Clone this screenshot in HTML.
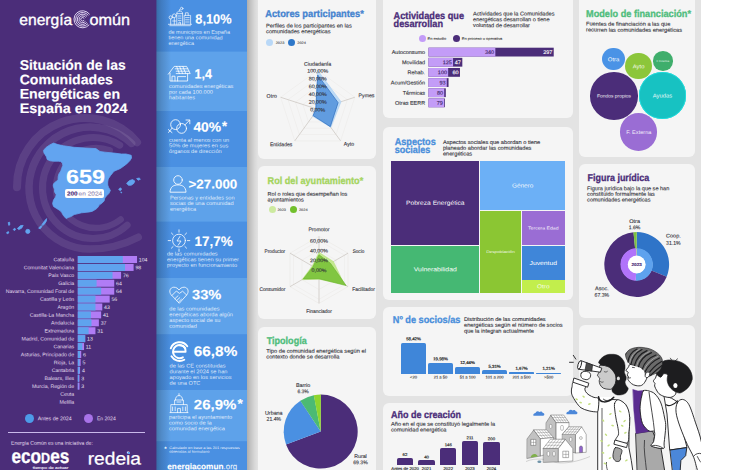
<!DOCTYPE html>
<html><head><meta charset="utf-8"><title>Energia Comun</title>
<style>
html,body{margin:0;padding:0;}
body{width:730px;height:470px;position:relative;overflow:hidden;background:#fff;font-family:"Liberation Sans",sans-serif;}
.t{position:absolute;left:0;top:0;white-space:nowrap;transform-origin:0 0;-webkit-text-stroke:0.12px currentColor;}
.b{position:absolute;}
svg{position:absolute;overflow:visible;}
</style></head><body>
<div class="b" style="left:247.00px;top:0.00px;width:454.00px;height:470.00px;background:#e3e3e3;"></div>
<div class="b" style="left:247px;top:0;width:11px;height:470px;background:linear-gradient(90deg,#aeaeae 0%,#c2c2c2 30%,#d8d8d8 70%,#e3e3e3 100%);"></div>
<div class="b" style="left:150.00px;top:0.00px;width:97.00px;height:470.00px;background:#4a90e2;"></div>
<svg width="730" height="470" style="left:0;top:0" viewBox="0 0 730 470"><rect x="150.00" y="51.60" width="97.00" height="59.40" rx="0" fill="#5ea2ea"/></svg>
<svg width="730" height="470" style="left:0;top:0" viewBox="0 0 730 470"><rect x="150.00" y="167.00" width="97.00" height="54.60" rx="0" fill="#5ea2ea"/></svg>
<svg width="730" height="470" style="left:0;top:0" viewBox="0 0 730 470"><rect x="150.00" y="278.00" width="97.00" height="56.20" rx="0" fill="#5ea2ea"/></svg>
<svg width="730" height="470" style="left:0;top:0" viewBox="0 0 730 470"><rect x="150.00" y="390.00" width="97.00" height="51.20" rx="0" fill="#5ea2ea"/></svg>
<div class="b" style="left:156px;top:0;width:15px;height:470px;background:linear-gradient(90deg,rgba(20,30,40,.33),rgba(20,30,40,.18) 35%,rgba(20,30,40,0));"></div>
<div class="b" style="left:0.00px;top:0.00px;width:156.00px;height:470.00px;background:#4b2d79;"></div>
<svg width="730" height="470" style="left:0;top:0" viewBox="0 0 730 470"><rect x="150.00" y="0.00" width="6.40" height="470.00" rx="0" fill="#4b2d79"/></svg>
<div class="b" style="left:258.30px;top:-10.00px;width:118.20px;height:169.20px;background:#f5f5f5;border-radius:6px;"></div>
<div class="b" style="left:258.30px;top:166.00px;width:118.20px;height:153.20px;background:#f5f5f5;border-radius:6px;"></div>
<div class="b" style="left:258.30px;top:326.50px;width:118.20px;height:153.50px;background:#f5f5f5;border-radius:6px;"></div>
<div class="b" style="left:382.70px;top:-10.00px;width:190.10px;height:128.30px;background:#f5f5f5;border-radius:6px;"></div>
<div class="b" style="left:382.70px;top:126.50px;width:190.10px;height:173.40px;background:#f5f5f5;border-radius:6px;"></div>
<div class="b" style="left:382.70px;top:306.60px;width:190.10px;height:89.20px;background:#f5f5f5;border-radius:6px;"></div>
<div class="b" style="left:383.00px;top:403.30px;width:312.20px;height:76.70px;background:#f5f5f5;border-radius:6px;"></div>
<div class="b" style="left:579.20px;top:-10.00px;width:116.00px;height:167.00px;background:#f5f5f5;border-radius:6px;"></div>
<div class="b" style="left:579.20px;top:164.20px;width:116.00px;height:154.30px;background:#f5f5f5;border-radius:6px;"></div>
<div class="b" style="left:579.20px;top:324.60px;width:116.00px;height:155.40px;background:#f5f5f5;border-radius:6px;"></div>
<div class="t" style="font-size:15.50px;line-height:17px;color:#fff;transform:translate(19.30px,10.90px) rotate(0.03deg) scaleX(1.0081);-webkit-text-stroke:0.35px #fff;">energía</div>
<div class="t" style="font-size:15.50px;line-height:17px;color:#fff;transform:translate(89.60px,10.90px) rotate(0.03deg) scaleX(1.0445);-webkit-text-stroke:0.35px #fff;">omún</div>
<svg width="730" height="470" style="left:0;top:0" viewBox="0 0 730 470"><g fill="none" stroke="#e6dcf7" stroke-width="0.95" stroke-linecap="round"><path d="M89.38 14.01 A8.60 8.60 0 1 0 88.99 25.05"/><path d="M88.04 15.05 A6.90 6.90 0 1 0 87.73 23.92"/><path d="M86.70 16.10 A5.20 5.20 0 1 0 86.46 22.78"/><path d="M85.36 17.15 A3.50 3.50 0 1 0 85.20 21.64"/><path d="M84.02 18.19 A1.80 1.80 0 1 0 83.94 20.50"/></g></svg>
<div class="t" style="font-size:13.90px;line-height:16px;color:#fff;transform:translate(19.70px,56.70px) rotate(0.03deg) scaleX(1.0016);font-weight:bold;">Situación de las</div>
<div class="t" style="font-size:13.90px;line-height:16px;color:#fff;transform:translate(19.70px,71.20px) rotate(0.03deg) scaleX(1.0141);font-weight:bold;">Comunidades</div>
<div class="t" style="font-size:13.90px;line-height:16px;color:#fff;transform:translate(19.70px,85.60px) rotate(0.03deg) scaleX(1.0153);font-weight:bold;">Energéticas en</div>
<div class="t" style="font-size:13.90px;line-height:16px;color:#fff;transform:translate(19.70px,100.00px) rotate(0.03deg) scaleX(1.0353);font-weight:bold;">España en 2024</div>
<svg width="730" height="470" style="left:0;top:0" viewBox="0 0 730 470"><g fill="none" stroke="rgba(255,255,255,0.095)" stroke-linecap="round"><path d="M137.09 142.29 A68.00 68.00 0 0 0 17.01 187.19" stroke-width="8"/><path d="M131.60 143.39 A61.00 61.00 0 1 0 90.00 249.00 A104 104 0 0 0 138.2 237.2" stroke-width="7.5"/><path d="M119.76 145.17 A50.50 50.50 0 1 0 127.12 225.23" stroke-width="7"/><path d="M109.68 150.41 A40.00 40.00 0 1 0 120.63 219.52" stroke-width="6.5"/></g></svg>
<svg width="730" height="470" style="left:0;top:0" viewBox="0 0 730 470"><g fill="#62a4f0" stroke="#62a4f0" stroke-width="0.8" stroke-linejoin="round"><path d="M43.5 150.4 L46.0 147.5 L49.8 144.9 L53.5 143.1 L58.0 144.6 L63.4 145.8 L74.2 147.3 L85.1 148.0 L95.9 148.6 L100.0 151.5 L105.0 152.2 L114.0 153.1 L121.3 154.0 L126.0 154.0 L131.2 155.3 L131.5 158.0 L130.0 160.5 L126.7 163.9 L120.4 168.5 L114.0 171.2 L110.4 175.7 L108.2 179.0 L107.7 182.0 L107.7 185.0 L108.6 187.4 L110.4 190.5 L108.8 193.6 L106.8 195.6 L104.8 198.0 L104.1 201.0 L101.5 203.6 L99.6 204.6 L97.5 207.8 L96.0 209.1 L92.5 211.2 L89.6 211.9 L81.5 212.8 L74.2 214.6 L70.5 216.8 L68.8 217.3 L66.1 218.5 L63.4 215.5 L62.0 212.8 L60.7 211.0 L56.2 208.2 L53.5 206.4 L52.6 203.5 L53.5 200.1 L55.6 197.0 L56.2 194.7 L54.6 192.0 L54.4 189.2 L53.2 186.0 L53.5 183.8 L56.0 181.5 L58.0 180.2 L58.2 176.5 L58.9 173.9 L60.8 171.0 L61.6 168.5 L62.8 165.5 L62.5 163.0 L60.5 161.6 L58.9 161.2 L53.5 161.2 L50.0 160.8 L47.1 159.4 L46.6 157.0 L45.3 154.9 L44.0 153.0Z"/><path d="M126.6 183.2 L129.5 180.6 L132.6 179.6 L134.8 181 L133.8 183.4 L131.2 185.2 L128.4 185.3Z"/><path d="M136.6 178.6 L139.2 178 L140.4 179.2 L138.2 180.2Z"/><path d="M118.6 189.4 L120.4 187.8 L121.6 189 L120.4 190.8Z"/><path d="M120.6 192.3 L121.6 192 L121.6 193 Z"/><path d="M42 224.5 L44.5 221 L46.6 218.6 L46.4 221 L44.4 224.2 L42.6 225.6Z"/><path d="M38.6 228.2 L41 225.6 L42 226.4 L40.2 228.8Z"/><circle cx="27.8" cy="231.4" r="2.1"/><path d="M17.4 228.4 L20.6 225.6 L23.2 225.4 L21.6 228.2 L18.8 229.6Z"/><path d="M13.2 229.4 L14.8 228.2 L15.6 229.6 L14.2 230.6Z"/><path d="M8.2 222.6 L9.6 222.2 L9.8 224.8 L8.8 225.4Z"/><path d="M6.6 232.6 L8.4 231.6 L8.8 233 L7.2 233.8Z"/></g></svg>
<div class="t" style="font-size:19.80px;line-height:22px;color:#fff;transform:translate(66.00px,165.50px) rotate(0.03deg) scaleX(1.1805);font-weight:bold;">659</div>
<div class="b" style="left:64.80px;top:189.20px;width:39.40px;height:8.60px;background:#fff;border-radius:2px;"></div>
<div class="t" style="font-size:5.60px;line-height:6px;color:#4b2d79;transform:translate(66.90px,190.45px) rotate(0.03deg) scaleX(1.1345);font-weight:bold;">200</div>
<div class="t" style="font-size:5.60px;line-height:6px;color:#9a8fb5;transform:translate(78.60px,190.45px) rotate(0.03deg) scaleX(1.1658);">en 2024</div>
<svg width="730" height="470" style="left:0;top:0" viewBox="0 0 730 470"><rect x="77.80" y="256.00" width="59.23" height="7.00" rx="0" fill="#b07cf5"/></svg>
<svg width="730" height="470" style="left:0;top:0" viewBox="0 0 730 470"><rect x="77.80" y="256.00" width="44.99" height="7.00" rx="0" fill="#5fa3ee"/></svg>
<div class="t" style="font-size:5.20px;line-height:6px;color:#ebe5f4;transform:translate(138.83px,256.42px) rotate(0.03deg) scaleX(1.0000);-webkit-text-stroke:0;">104</div>
<div class="t" style="font-size:5.10px;line-height:6px;color:#e4ddef;transform:translate(53.38px,256.28px) rotate(0.03deg) scaleX(1.0200);-webkit-text-stroke:0;">Cataluña</div>
<svg width="730" height="470" style="left:0;top:0" viewBox="0 0 730 470"><rect x="77.80" y="263.92" width="55.81" height="7.00" rx="0" fill="#b07cf5"/></svg>
<svg width="730" height="470" style="left:0;top:0" viewBox="0 0 730 470"><rect x="77.80" y="263.92" width="47.27" height="7.00" rx="0" fill="#5fa3ee"/></svg>
<div class="t" style="font-size:5.20px;line-height:6px;color:#ebe5f4;transform:translate(135.41px,264.33px) rotate(0.03deg) scaleX(1.0000);-webkit-text-stroke:0;">98</div>
<div class="t" style="font-size:5.10px;line-height:6px;color:#e4ddef;transform:translate(23.69px,264.20px) rotate(0.03deg) scaleX(1.0200);-webkit-text-stroke:0;">Comunitat Valenciana</div>
<svg width="730" height="470" style="left:0;top:0" viewBox="0 0 730 470"><rect x="77.80" y="271.83" width="43.28" height="7.00" rx="0" fill="#b07cf5"/></svg>
<svg width="730" height="470" style="left:0;top:0" viewBox="0 0 730 470"><rect x="77.80" y="271.83" width="34.74" height="7.00" rx="0" fill="#5fa3ee"/></svg>
<div class="t" style="font-size:5.20px;line-height:6px;color:#ebe5f4;transform:translate(122.88px,272.25px) rotate(0.03deg) scaleX(1.0000);-webkit-text-stroke:0;">76</div>
<div class="t" style="font-size:5.10px;line-height:6px;color:#e4ddef;transform:translate(48.27px,272.11px) rotate(0.03deg) scaleX(1.0200);-webkit-text-stroke:0;">País Vasco</div>
<svg width="730" height="470" style="left:0;top:0" viewBox="0 0 730 470"><rect x="77.80" y="279.75" width="36.45" height="7.00" rx="0" fill="#b07cf5"/></svg>
<svg width="730" height="470" style="left:0;top:0" viewBox="0 0 730 470"><rect x="77.80" y="279.75" width="18.79" height="7.00" rx="0" fill="#5fa3ee"/></svg>
<div class="t" style="font-size:5.20px;line-height:6px;color:#ebe5f4;transform:translate(116.05px,280.16px) rotate(0.03deg) scaleX(1.0000);-webkit-text-stroke:0;">64</div>
<div class="t" style="font-size:5.10px;line-height:6px;color:#e4ddef;transform:translate(58.30px,280.03px) rotate(0.03deg) scaleX(1.0200);-webkit-text-stroke:0;">Galicia</div>
<svg width="730" height="470" style="left:0;top:0" viewBox="0 0 730 470"><rect x="77.80" y="287.66" width="36.45" height="7.00" rx="0" fill="#b07cf5"/></svg>
<svg width="730" height="470" style="left:0;top:0" viewBox="0 0 730 470"><rect x="77.80" y="287.66" width="23.35" height="7.00" rx="0" fill="#5fa3ee"/></svg>
<div class="t" style="font-size:5.20px;line-height:6px;color:#ebe5f4;transform:translate(116.05px,288.08px) rotate(0.03deg) scaleX(1.0000);-webkit-text-stroke:0;">64</div>
<div class="t" style="font-size:5.10px;line-height:6px;color:#e4ddef;transform:translate(5.67px,287.94px) rotate(0.03deg) scaleX(1.0200);-webkit-text-stroke:0;">Navarra, Comunidad Foral de</div>
<svg width="730" height="470" style="left:0;top:0" viewBox="0 0 730 470"><rect x="77.80" y="295.57" width="31.89" height="7.00" rx="0" fill="#b07cf5"/></svg>
<svg width="730" height="470" style="left:0;top:0" viewBox="0 0 730 470"><rect x="77.80" y="295.57" width="17.65" height="7.00" rx="0" fill="#5fa3ee"/></svg>
<div class="t" style="font-size:5.20px;line-height:6px;color:#ebe5f4;transform:translate(111.49px,295.99px) rotate(0.03deg) scaleX(1.0000);-webkit-text-stroke:0;">56</div>
<div class="t" style="font-size:5.10px;line-height:6px;color:#e4ddef;transform:translate(40.08px,295.86px) rotate(0.03deg) scaleX(1.0200);-webkit-text-stroke:0;">Castilla y León</div>
<svg width="730" height="470" style="left:0;top:0" viewBox="0 0 730 470"><rect x="77.80" y="303.49" width="24.49" height="7.00" rx="0" fill="#b07cf5"/></svg>
<svg width="730" height="470" style="left:0;top:0" viewBox="0 0 730 470"><rect x="77.80" y="303.49" width="17.65" height="7.00" rx="0" fill="#5fa3ee"/></svg>
<div class="t" style="font-size:5.20px;line-height:6px;color:#ebe5f4;transform:translate(104.09px,303.91px) rotate(0.03deg) scaleX(1.0000);-webkit-text-stroke:0;">43</div>
<div class="t" style="font-size:5.10px;line-height:6px;color:#e4ddef;transform:translate(57.42px,303.77px) rotate(0.03deg) scaleX(1.0200);-webkit-text-stroke:0;">Aragón</div>
<svg width="730" height="470" style="left:0;top:0" viewBox="0 0 730 470"><rect x="77.80" y="311.40" width="23.35" height="7.00" rx="0" fill="#b07cf5"/></svg>
<svg width="730" height="470" style="left:0;top:0" viewBox="0 0 730 470"><rect x="77.80" y="311.40" width="13.10" height="7.00" rx="0" fill="#5fa3ee"/></svg>
<div class="t" style="font-size:5.20px;line-height:6px;color:#ebe5f4;transform:translate(102.95px,311.82px) rotate(0.03deg) scaleX(1.0000);-webkit-text-stroke:0;">41</div>
<div class="t" style="font-size:5.10px;line-height:6px;color:#e4ddef;transform:translate(29.67px,311.69px) rotate(0.03deg) scaleX(1.0200);-webkit-text-stroke:0;">Castilla-La Mancha</div>
<svg width="730" height="470" style="left:0;top:0" viewBox="0 0 730 470"><rect x="77.80" y="319.32" width="21.07" height="7.00" rx="0" fill="#b07cf5"/></svg>
<svg width="730" height="470" style="left:0;top:0" viewBox="0 0 730 470"><rect x="77.80" y="319.32" width="13.67" height="7.00" rx="0" fill="#5fa3ee"/></svg>
<div class="t" style="font-size:5.20px;line-height:6px;color:#ebe5f4;transform:translate(100.67px,319.74px) rotate(0.03deg) scaleX(1.0000);-webkit-text-stroke:0;">37</div>
<div class="t" style="font-size:5.10px;line-height:6px;color:#e4ddef;transform:translate(51.06px,319.60px) rotate(0.03deg) scaleX(1.0200);-webkit-text-stroke:0;">Andalucía</div>
<svg width="730" height="470" style="left:0;top:0" viewBox="0 0 730 470"><rect x="77.80" y="327.24" width="17.65" height="7.00" rx="0" fill="#b07cf5"/></svg>
<svg width="730" height="470" style="left:0;top:0" viewBox="0 0 730 470"><rect x="77.80" y="327.24" width="10.82" height="7.00" rx="0" fill="#5fa3ee"/></svg>
<div class="t" style="font-size:5.20px;line-height:6px;color:#ebe5f4;transform:translate(97.25px,327.65px) rotate(0.03deg) scaleX(1.0000);-webkit-text-stroke:0;">31</div>
<div class="t" style="font-size:5.10px;line-height:6px;color:#e4ddef;transform:translate(44.42px,327.52px) rotate(0.03deg) scaleX(1.0200);-webkit-text-stroke:0;">Extremadura</div>
<svg width="730" height="470" style="left:0;top:0" viewBox="0 0 730 470"><rect x="77.80" y="335.15" width="7.40" height="7.00" rx="0" fill="#b07cf5"/></svg>
<svg width="730" height="470" style="left:0;top:0" viewBox="0 0 730 470"><rect x="77.80" y="335.15" width="7.40" height="7.00" rx="0" fill="#5fa3ee"/></svg>
<div class="t" style="font-size:5.20px;line-height:6px;color:#ebe5f4;transform:translate(87.00px,335.57px) rotate(0.03deg) scaleX(1.0000);-webkit-text-stroke:0;">13</div>
<div class="t" style="font-size:5.10px;line-height:6px;color:#e4ddef;transform:translate(21.57px,335.43px) rotate(0.03deg) scaleX(1.0200);-webkit-text-stroke:0;">Madrid, Comunidad de</div>
<svg width="730" height="470" style="left:0;top:0" viewBox="0 0 730 470"><rect x="77.80" y="343.06" width="6.26" height="7.00" rx="0" fill="#b07cf5"/></svg>
<svg width="730" height="470" style="left:0;top:0" viewBox="0 0 730 470"><rect x="77.80" y="343.06" width="4.56" height="7.00" rx="0" fill="#5fa3ee"/></svg>
<div class="t" style="font-size:5.20px;line-height:6px;color:#ebe5f4;transform:translate(85.86px,343.48px) rotate(0.03deg) scaleX(1.0000);-webkit-text-stroke:0;">11</div>
<div class="t" style="font-size:5.10px;line-height:6px;color:#e4ddef;transform:translate(53.38px,343.35px) rotate(0.03deg) scaleX(1.0200);-webkit-text-stroke:0;">Canarias</div>
<svg width="730" height="470" style="left:0;top:0" viewBox="0 0 730 470"><rect x="77.80" y="350.98" width="3.42" height="7.00" rx="0" fill="#b07cf5"/></svg>
<svg width="730" height="470" style="left:0;top:0" viewBox="0 0 730 470"><rect x="77.80" y="350.98" width="2.28" height="7.00" rx="0" fill="#5fa3ee"/></svg>
<div class="t" style="font-size:5.20px;line-height:6px;color:#ebe5f4;transform:translate(83.02px,351.40px) rotate(0.03deg) scaleX(1.0000);-webkit-text-stroke:0;">6</div>
<div class="t" style="font-size:5.10px;line-height:6px;color:#e4ddef;transform:translate(20.71px,351.26px) rotate(0.03deg) scaleX(1.0200);-webkit-text-stroke:0;">Asturias, Principado de</div>
<svg width="730" height="470" style="left:0;top:0" viewBox="0 0 730 470"><rect x="77.80" y="358.89" width="2.85" height="7.00" rx="0" fill="#b07cf5"/></svg>
<svg width="730" height="470" style="left:0;top:0" viewBox="0 0 730 470"><rect x="77.80" y="358.89" width="1.71" height="7.00" rx="0" fill="#5fa3ee"/></svg>
<div class="t" style="font-size:5.20px;line-height:6px;color:#ebe5f4;transform:translate(82.45px,359.31px) rotate(0.03deg) scaleX(1.0000);-webkit-text-stroke:0;">5</div>
<div class="t" style="font-size:5.10px;line-height:6px;color:#e4ddef;transform:translate(53.67px,359.18px) rotate(0.03deg) scaleX(1.0200);-webkit-text-stroke:0;">Rioja, La</div>
<svg width="730" height="470" style="left:0;top:0" viewBox="0 0 730 470"><rect x="77.80" y="366.81" width="2.28" height="7.00" rx="0" fill="#b07cf5"/></svg>
<svg width="730" height="470" style="left:0;top:0" viewBox="0 0 730 470"><rect x="77.80" y="366.81" width="1.71" height="7.00" rx="0" fill="#5fa3ee"/></svg>
<div class="t" style="font-size:5.20px;line-height:6px;color:#ebe5f4;transform:translate(81.88px,367.23px) rotate(0.03deg) scaleX(1.0000);-webkit-text-stroke:0;">4</div>
<div class="t" style="font-size:5.10px;line-height:6px;color:#e4ddef;transform:translate(51.64px,367.09px) rotate(0.03deg) scaleX(1.0200);-webkit-text-stroke:0;">Cantabria</div>
<svg width="730" height="470" style="left:0;top:0" viewBox="0 0 730 470"><rect x="77.80" y="374.73" width="1.71" height="7.00" rx="0" fill="#b07cf5"/></svg>
<svg width="730" height="470" style="left:0;top:0" viewBox="0 0 730 470"><rect x="77.80" y="374.73" width="1.14" height="7.00" rx="0" fill="#5fa3ee"/></svg>
<div class="t" style="font-size:5.20px;line-height:6px;color:#ebe5f4;transform:translate(81.31px,375.14px) rotate(0.03deg) scaleX(1.0000);-webkit-text-stroke:0;">3</div>
<div class="t" style="font-size:5.10px;line-height:6px;color:#e4ddef;transform:translate(44.42px,375.01px) rotate(0.03deg) scaleX(1.0200);-webkit-text-stroke:0;">Balears, Illes</div>
<svg width="730" height="470" style="left:0;top:0" viewBox="0 0 730 470"><rect x="77.80" y="382.64" width="1.71" height="7.00" rx="0" fill="#b07cf5"/></svg>
<svg width="730" height="470" style="left:0;top:0" viewBox="0 0 730 470"><rect x="77.80" y="382.64" width="0.57" height="7.00" rx="0" fill="#5fa3ee"/></svg>
<div class="t" style="font-size:5.20px;line-height:6px;color:#ebe5f4;transform:translate(81.31px,383.06px) rotate(0.03deg) scaleX(1.0000);-webkit-text-stroke:0;">3</div>
<div class="t" style="font-size:5.10px;line-height:6px;color:#e4ddef;transform:translate(31.98px,382.92px) rotate(0.03deg) scaleX(1.0200);-webkit-text-stroke:0;">Murcia, Región de</div>
<div class="t" style="font-size:5.10px;line-height:6px;color:#e4ddef;transform:translate(60.32px,390.84px) rotate(0.03deg) scaleX(1.0200);-webkit-text-stroke:0;">Ceuta</div>
<div class="t" style="font-size:5.10px;line-height:6px;color:#e4ddef;transform:translate(59.46px,398.75px) rotate(0.03deg) scaleX(1.0200);-webkit-text-stroke:0;">Melilla</div>
<div class="b" style="left:24.90px;top:413.60px;width:9.40px;height:9.40px;background:#4d9be8;border-radius:50%;"></div>
<div class="t" style="font-size:5.30px;line-height:6px;color:#e6dff0;transform:translate(37.70px,415.35px) rotate(0.03deg) scaleX(0.9946);-webkit-text-stroke:0;">Antes de 2024</div>
<div class="b" style="left:84.10px;top:413.60px;width:9.40px;height:9.40px;background:#a873e8;border-radius:50%;"></div>
<div class="t" style="font-size:5.30px;line-height:6px;color:#e6dff0;transform:translate(96.90px,415.35px) rotate(0.03deg) scaleX(0.9521);-webkit-text-stroke:0;">En 2024</div>
<div class="b" style="left:8.10px;top:432.00px;width:136.60px;height:1.00px;background:#c9b9ea;"></div>
<div class="t" style="font-size:5.20px;line-height:6px;color:#e6dff0;transform:translate(11.00px,439.72px) rotate(0.03deg) scaleX(0.9816);-webkit-text-stroke:0;">Energía Común es una iniciativa de:</div>
<div class="t" style="font-weight:bold;color:#fff;font-size:20.2px;line-height:23px;-webkit-text-stroke:0.3px #fff;transform:translate(11.5px,444.80px) rotate(0.03deg) scaleX(0.8513);">eco<span style="font-size:14.7px">D</span>es</div>
<div class="t" style="font-size:3.60px;line-height:4px;color:#e8e0f5;transform:translate(32.80px,465.89px) rotate(0.03deg) scaleX(1.3276);">tiempo de actuar</div>
<div class="t" style="font-size:17.50px;line-height:20px;color:#fff;transform:translate(87.70px,448.40px) rotate(0.03deg) scaleX(1.0956);-webkit-text-stroke:0.25px #fff;">redeia</div>
<div class="b" style="left:127.70px;top:451.60px;width:2.60px;height:2.60px;background:#5aa0f0;"></div>
<div class="t" style="font-size:13.30px;line-height:15px;color:#fff;transform:translate(195.30px,11.40px) rotate(0.03deg) scaleX(0.9626);font-weight:bold;">8,10%</div>
<div class="t" style="font-size:5.30px;line-height:6px;color:rgba(255,255,255,0.82);transform:translate(168.40px,28.75px) rotate(0.03deg) scaleX(1.0401);-webkit-text-stroke:0;">de municipios en España</div>
<div class="t" style="font-size:5.30px;line-height:6px;color:rgba(255,255,255,0.82);transform:translate(168.40px,34.35px) rotate(0.03deg) scaleX(1.0401);-webkit-text-stroke:0;">tienen una comunidad</div>
<div class="t" style="font-size:5.30px;line-height:6px;color:rgba(255,255,255,0.82);transform:translate(168.40px,39.95px) rotate(0.03deg) scaleX(1.0401);-webkit-text-stroke:0;">energética</div>
<div class="t" style="font-size:13.30px;line-height:15px;color:#fff;transform:translate(194.60px,66.50px) rotate(0.03deg) scaleX(0.9411);font-weight:bold;">1,4</div>
<div class="t" style="font-size:5.30px;line-height:6px;color:rgba(255,255,255,0.82);transform:translate(168.90px,82.95px) rotate(0.03deg) scaleX(1.0679);-webkit-text-stroke:0;">comunidades energéticas</div>
<div class="t" style="font-size:5.30px;line-height:6px;color:rgba(255,255,255,0.82);transform:translate(168.90px,88.65px) rotate(0.03deg) scaleX(1.0679);-webkit-text-stroke:0;">por cada 100.000</div>
<div class="t" style="font-size:5.30px;line-height:6px;color:rgba(255,255,255,0.82);transform:translate(168.90px,94.35px) rotate(0.03deg) scaleX(1.0679);-webkit-text-stroke:0;">habitantes</div>
<div class="t" style="font-size:13.30px;line-height:15px;color:#fff;transform:translate(193.40px,119.40px) rotate(0.03deg) scaleX(1.0443);font-weight:bold;">40%</div>
<div class="t" style="font-size:13.00px;line-height:15px;color:#fff;transform:translate(222.00px,118.60px) rotate(0.03deg) scaleX(1.0000);font-weight:bold;">*</div>
<div class="t" style="font-size:5.30px;line-height:6px;color:rgba(255,255,255,0.82);transform:translate(169.00px,136.75px) rotate(0.03deg) scaleX(1.0715);-webkit-text-stroke:0;">cuenta al menos con un</div>
<div class="t" style="font-size:5.30px;line-height:6px;color:rgba(255,255,255,0.82);transform:translate(169.00px,142.35px) rotate(0.03deg) scaleX(1.0715);-webkit-text-stroke:0;">50% de mujeres en sus</div>
<div class="t" style="font-size:5.30px;line-height:6px;color:rgba(255,255,255,0.82);transform:translate(169.00px,147.95px) rotate(0.03deg) scaleX(1.0715);-webkit-text-stroke:0;">órganos de dirección</div>
<div class="t" style="font-size:12.80px;line-height:15px;color:#fff;transform:translate(188.50px,176.50px) rotate(0.03deg) scaleX(1.0466);font-weight:bold;">&gt;27.000</div>
<div class="t" style="font-size:5.30px;line-height:6px;color:rgba(255,255,255,0.82);transform:translate(169.90px,194.45px) rotate(0.03deg) scaleX(1.0608);-webkit-text-stroke:0;">Personas y entidades son</div>
<div class="t" style="font-size:5.30px;line-height:6px;color:rgba(255,255,255,0.82);transform:translate(169.90px,200.05px) rotate(0.03deg) scaleX(1.0608);-webkit-text-stroke:0;">socias de una comunidad</div>
<div class="t" style="font-size:5.30px;line-height:6px;color:rgba(255,255,255,0.82);transform:translate(169.90px,205.65px) rotate(0.03deg) scaleX(1.0608);-webkit-text-stroke:0;">energética</div>
<div class="t" style="font-size:13.80px;line-height:15px;color:#fff;transform:translate(194.60px,234.00px) rotate(0.03deg) scaleX(0.9762);font-weight:bold;">17,7%</div>
<div class="t" style="font-size:5.30px;line-height:6px;color:rgba(255,255,255,0.82);transform:translate(166.90px,250.55px) rotate(0.03deg) scaleX(1.0781);-webkit-text-stroke:0;">de las comunidades</div>
<div class="t" style="font-size:5.30px;line-height:6px;color:rgba(255,255,255,0.82);transform:translate(166.90px,256.25px) rotate(0.03deg) scaleX(1.0781);-webkit-text-stroke:0;">energéticas tienen su primer</div>
<div class="t" style="font-size:5.30px;line-height:6px;color:rgba(255,255,255,0.82);transform:translate(166.90px,261.85px) rotate(0.03deg) scaleX(1.0781);-webkit-text-stroke:0;">proyecto en  funcionamiento</div>
<div class="t" style="font-size:13.60px;line-height:15px;color:#fff;transform:translate(192.00px,287.20px) rotate(0.03deg) scaleX(1.0764);font-weight:bold;">33%</div>
<div class="t" style="font-size:5.30px;line-height:6px;color:rgba(255,255,255,0.82);transform:translate(169.30px,305.55px) rotate(0.03deg) scaleX(1.0649);-webkit-text-stroke:0;">de las comunidades</div>
<div class="t" style="font-size:5.30px;line-height:6px;color:rgba(255,255,255,0.82);transform:translate(169.30px,311.25px) rotate(0.03deg) scaleX(1.0649);-webkit-text-stroke:0;">energéticas aborda algún</div>
<div class="t" style="font-size:5.30px;line-height:6px;color:rgba(255,255,255,0.82);transform:translate(169.30px,316.95px) rotate(0.03deg) scaleX(1.0649);-webkit-text-stroke:0;">aspecto social de su</div>
<div class="t" style="font-size:5.30px;line-height:6px;color:rgba(255,255,255,0.82);transform:translate(169.30px,322.65px) rotate(0.03deg) scaleX(1.0649);-webkit-text-stroke:0;">comunidad</div>
<div class="t" style="font-size:14.00px;line-height:16px;color:#fff;transform:translate(193.80px,343.00px) rotate(0.03deg) scaleX(1.0958);font-weight:bold;">66,8%</div>
<div class="t" style="font-size:5.30px;line-height:6px;color:rgba(255,255,255,0.82);transform:translate(169.60px,362.55px) rotate(0.03deg) scaleX(1.0682);-webkit-text-stroke:0;">de las CE constituidas</div>
<div class="t" style="font-size:5.30px;line-height:6px;color:rgba(255,255,255,0.82);transform:translate(169.60px,368.25px) rotate(0.03deg) scaleX(1.0682);-webkit-text-stroke:0;">durante el 2024 se han</div>
<div class="t" style="font-size:5.30px;line-height:6px;color:rgba(255,255,255,0.82);transform:translate(169.60px,373.95px) rotate(0.03deg) scaleX(1.0682);-webkit-text-stroke:0;">apoyado en los servicios</div>
<div class="t" style="font-size:5.30px;line-height:6px;color:rgba(255,255,255,0.82);transform:translate(169.60px,379.65px) rotate(0.03deg) scaleX(1.0682);-webkit-text-stroke:0;">de una OTC</div>
<div class="t" style="font-size:13.60px;line-height:15px;color:#fff;transform:translate(193.80px,397.20px) rotate(0.03deg) scaleX(1.1047);font-weight:bold;">26,9%</div>
<div class="t" style="font-size:13.50px;line-height:15px;color:#fff;transform:translate(237.60px,396.20px) rotate(0.03deg) scaleX(1.0000);font-weight:bold;">*</div>
<div class="t" style="font-size:5.30px;line-height:6px;color:rgba(255,255,255,0.82);transform:translate(168.90px,413.75px) rotate(0.03deg) scaleX(1.0759);-webkit-text-stroke:0;">participa el ayuntamiento</div>
<div class="t" style="font-size:5.30px;line-height:6px;color:rgba(255,255,255,0.82);transform:translate(168.90px,419.45px) rotate(0.03deg) scaleX(1.0759);-webkit-text-stroke:0;">como socio de la</div>
<div class="t" style="font-size:5.30px;line-height:6px;color:rgba(255,255,255,0.82);transform:translate(168.90px,425.15px) rotate(0.03deg) scaleX(1.0759);-webkit-text-stroke:0;">comunidad energética</div>
<div class="t" style="font-size:5.00px;line-height:6px;color:#fff;transform:translate(164.60px,445.25px) rotate(0.03deg) scaleX(1.0000);font-weight:bold;">*</div>
<div class="t" style="font-size:3.50px;line-height:4px;color:rgba(255,255,255,0.9);transform:translate(169.30px,446.05px) rotate(0.03deg) scaleX(1.1307);-webkit-text-stroke:0;">Calculado en base a las 201 respuestas</div>
<div class="t" style="font-size:3.50px;line-height:4px;color:rgba(255,255,255,0.9);transform:translate(169.30px,449.85px) rotate(0.03deg) scaleX(1.1307);-webkit-text-stroke:0;">obtenidas al formulario</div>
<div class="t" style="font-size:8.20px;line-height:9px;color:#fff;transform:translate(167.30px,462.30px) rotate(0.03deg) scaleX(1.0027);font-weight:bold;">energiacomun</div>
<div class="t" style="font-size:8.20px;line-height:9px;color:rgba(255,255,255,0.85);transform:translate(223.60px,462.30px) rotate(0.03deg) scaleX(0.9625);">.org</div>
<svg width="730" height="470" style="left:0;top:0" viewBox="0 0 730 470"><g fill="none" stroke="rgba(255,255,255,0.85)" stroke-width="0.8" stroke-linecap="round" stroke-linejoin="round"><path d="M168.4 24.3 H191.6 M169.8 25.7 H190.4"/><circle cx="170.7" cy="17.4" r="1.6"/><path d="M170.7 19 V24.3"/><circle cx="174.3" cy="15.8" r="1.9"/><path d="M174.3 17.7 V24.3 M172.6 21 H176"/><path d="M176.8 24.3 V13.6 C176.8 10.2 182.6 10.2 182.6 13.6 V24.3 M176.8 13.6 H182.6 M178.4 16 H181 M178.4 18.2 H181 M178.4 20.4 H181 M178.9 24.3 V22.2 H180.5 V24.3"/><circle cx="181.7" cy="8.5" r="1.25"/><path d="M179.7 11 V9.4"/><path d="M184.2 24.3 V15.4 H190.6 V24.3 M185.4 15.4 V12.8 H188.2 V15.4 M185.6 17.6 H189.2 M185.6 19.8 H189.2 M185.6 22 H189.2"/></g></svg>
<svg width="730" height="470" style="left:0;top:0" viewBox="0 0 730 470"><g fill="none" stroke="#fff" stroke-width="0.8" stroke-linecap="round" stroke-linejoin="round"><path d="M168.3 74.2 L174.2 66.4 H186.6 L190.2 73.6 H176.2 M170 73 V81 H187.6 V73.6 M172 81 V76.2 H175 V81 M177.6 81 V76.6 H185.6"/><path d="M176.6 66.4 L179.4 73.6 M179.6 66.4 L182.6 73.6 M182.8 66.4 L185.8 73.6 M175.2 68.8 H187.8 M176.2 71.2 H189"/></g></svg>
<svg width="730" height="470" style="left:0;top:0" viewBox="0 0 730 470"><g fill="none" stroke="#fff" stroke-width="0.85" stroke-linecap="round" stroke-linejoin="round"><circle cx="175.6" cy="124.6" r="4.9"/><circle cx="181.6" cy="128.4" r="4.9"/><path d="M185 124.8 L189.6 120.2 M186 120 H189.8 V123.8"/><path d="M172 128.2 L168.6 132.4 M168.4 129.6 L172 132.6"/></g></svg>
<svg width="730" height="470" style="left:0;top:0" viewBox="0 0 730 470"><g fill="none" stroke="#fff" stroke-width="0.85" stroke-linecap="round" stroke-linejoin="round"><circle cx="178" cy="180" r="4.3"/><path d="M170 191.8 C170.4 186.8 173.4 184.9 178 184.9 C182.6 184.9 185.6 186.8 186 191.8 Z"/></g></svg>
<svg width="730" height="470" style="left:0;top:0" viewBox="0 0 730 470"><g fill="none" stroke="#fff" stroke-width="0.8" stroke-linecap="round" stroke-linejoin="round"><circle cx="179" cy="240.6" r="6.4"/><path d="M180 236.4 L177 241 H181 L178.2 245.2"/><path d="M187.4 240.6 L189.8 240.6"/><path d="M184.9 246.5 L186.6 248.2"/><path d="M179.0 249.0 L179.0 251.4"/><path d="M173.1 246.5 L171.4 248.2"/><path d="M170.6 240.6 L168.2 240.6"/><path d="M173.1 234.7 L171.4 233.0"/><path d="M179.0 232.2 L179.0 229.8"/><path d="M184.9 234.7 L186.6 233.0"/></g></svg>
<svg width="730" height="470" style="left:0;top:0" viewBox="0 0 730 470"><g fill="none" stroke="#fff" stroke-width="0.8" stroke-linecap="round" stroke-linejoin="round"><path d="M179 303 L171 294.6 C168.6 291.6 170 287.4 173.8 287.2 C176.4 287.2 178 288.6 179 290 C180 288.6 181.6 287.2 184.2 287.2 C188 287.4 189.4 291.6 187 294.6 Z"/><path d="M172 295.4 L176.4 291 L179.4 293.4 L182.6 291.2 L186.6 295 M175 298.6 L178 295.8 M176.8 300.4 L179.8 297.6 M178.6 302 L181.4 299.2"/></g></svg>
<svg width="730" height="470" style="left:0;top:0" viewBox="0 0 730 470"><g fill="none" stroke="#fff" stroke-width="1.9" stroke-linecap="round" stroke-linejoin="round"><path d="M187.30 346.21 A9.40 9.40 0 0 0 170.77 348.39"/><path d="M185.32 348.30 A6.60 6.60 0 1 0 182.90 357.32"/><path d="M173.4 351.8 H185.6 C185.6 347 182.6 345.4 179.6 345.4"/><path d="M171.46 356.30 A9.40 9.40 0 0 0 184.30 359.74"/></g></svg>
<svg width="730" height="470" style="left:0;top:0" viewBox="0 0 730 470"><g fill="none" stroke="#fff" stroke-width="0.75" stroke-linecap="round" stroke-linejoin="round"><path d="M170 412.6 H188 M170.8 412.6 V404.6 H187.2 V412.6 M174.6 404.6 V400 H183.4 V404.6 M175.4 400 C175.4 397 177 395.6 179 395.6 C181 395.6 182.6 397 182.6 400 M179 395.6 V393.6"/><path d="M172.6 407 V410.6 M175.2 407 V410.6 M182.8 407 V410.6 M185.4 407 V410.6 M177.6 412.6 V408.4 H180.4 V412.6 M177 402 H181"/></g></svg>
<div class="t" style="font-size:10.00px;line-height:11px;color:#4483cf;transform:translate(265.20px,7.90px) rotate(0.03deg) scaleX(0.9289);font-weight:bold;-webkit-text-stroke:0.3px currentColor;">Actores participantes*</div>
<div class="t" style="font-size:5.50px;line-height:6px;color:#33333b;transform:translate(266.10px,22.52px) rotate(0.03deg) scaleX(1.0268);">Perfiles de los participantes en las</div>
<div class="t" style="font-size:5.50px;line-height:6px;color:#33333b;transform:translate(266.10px,28.31px) rotate(0.03deg) scaleX(1.0268);">comunidades energéticas</div>
<div class="b" style="left:266.40px;top:39.30px;width:7.00px;height:7.00px;background:#b9d8f7;border-radius:50%;"></div>
<div class="t" style="font-size:3.40px;line-height:4px;color:#555;transform:translate(275.70px,41.02px) rotate(0.03deg) scaleX(1.1370);">2023</div>
<div class="b" style="left:288.10px;top:39.30px;width:7.00px;height:7.00px;background:#2f78c9;border-radius:50%;"></div>
<div class="t" style="font-size:3.40px;line-height:4px;color:#555;transform:translate(297.20px,41.02px) rotate(0.03deg) scaleX(1.1634);">2024</div>
<svg width="730" height="470" style="left:0;top:0" viewBox="0 0 730 470"><polygon points="317.70,101.50 325.12,106.89 322.28,115.61 313.12,115.61 310.28,106.89" fill="none" stroke="#ebe9e7" stroke-width="0.5"/><polygon points="317.70,93.70 332.54,104.48 326.87,121.92 308.53,121.92 302.86,104.48" fill="none" stroke="#ebe9e7" stroke-width="0.5"/><polygon points="317.70,85.90 339.95,102.07 331.45,128.23 303.95,128.23 295.45,102.07" fill="none" stroke="#ebe9e7" stroke-width="0.5"/><polygon points="317.70,78.10 347.37,99.66 336.04,134.54 299.36,134.54 288.03,99.66" fill="none" stroke="#ebe9e7" stroke-width="0.5"/><polygon points="317.70,70.30 354.79,97.25 340.62,140.85 294.78,140.85 280.61,97.25" fill="none" stroke="#ebe9e7" stroke-width="0.5"/><line x1="317.70" y1="109.30" x2="317.70" y2="70.30" stroke="#c9c3bd" stroke-width="0.7"/><line x1="317.70" y1="109.30" x2="354.79" y2="97.25" stroke="#c9c3bd" stroke-width="0.7"/><line x1="317.70" y1="109.30" x2="340.62" y2="140.85" stroke="#c9c3bd" stroke-width="0.7"/><line x1="317.70" y1="109.30" x2="294.78" y2="140.85" stroke="#c9c3bd" stroke-width="0.7"/><line x1="317.70" y1="109.30" x2="280.61" y2="97.25" stroke="#c9c3bd" stroke-width="0.7"/><polygon points="317.70,70.30 341.07,101.71 330.77,127.28 312.66,116.24 315.47,108.58" fill="#bcdaf6" stroke="#a9cdf0" stroke-width="0.5"/><polygon points="317.70,74.98 338.10,102.67 330.31,126.65 313.12,115.61 315.85,108.70" fill="rgba(62,132,214,0.72)" stroke="#2f6fbe" stroke-width="0.7"/></svg>
<div class="t" style="font-size:5.30px;line-height:6px;color:#33333b;transform:translate(304.10px,60.75px) rotate(0.03deg) scaleX(1.0033);">Ciudadanía</div>
<div class="t" style="font-size:5.20px;line-height:6px;color:#33333b;transform:translate(310.18px,106.62px) rotate(0.03deg) scaleX(1.0200);">0,00%</div>
<div class="t" style="font-size:5.20px;line-height:6px;color:#33333b;transform:translate(308.71px,98.82px) rotate(0.03deg) scaleX(1.0200);">20,00%</div>
<div class="t" style="font-size:5.20px;line-height:6px;color:#33333b;transform:translate(308.71px,91.02px) rotate(0.03deg) scaleX(1.0200);">40,00%</div>
<div class="t" style="font-size:5.20px;line-height:6px;color:#33333b;transform:translate(308.71px,83.22px) rotate(0.03deg) scaleX(1.0200);">60,00%</div>
<div class="t" style="font-size:5.20px;line-height:6px;color:#33333b;transform:translate(308.71px,75.42px) rotate(0.03deg) scaleX(1.0200);">80,00%</div>
<div class="t" style="font-size:5.20px;line-height:6px;color:#33333b;transform:translate(307.23px,67.62px) rotate(0.03deg) scaleX(1.0200);">100,00%</div>
<div class="t" style="font-size:5.30px;line-height:6px;color:#33333b;transform:translate(358.60px,92.35px) rotate(0.03deg) scaleX(0.9754);">Pymes</div>
<div class="t" style="font-size:5.30px;line-height:6px;color:#33333b;transform:translate(343.80px,140.75px) rotate(0.03deg) scaleX(0.9705);">Ayto</div>
<div class="t" style="font-size:5.30px;line-height:6px;color:#33333b;transform:translate(270.00px,141.25px) rotate(0.03deg) scaleX(0.9417);">Entidades</div>
<div class="t" style="font-size:5.30px;line-height:6px;color:#33333b;transform:translate(266.60px,92.75px) rotate(0.03deg) scaleX(0.9896);">Otro</div>
<div class="t" style="font-size:10.00px;line-height:11px;color:#a4d45e;transform:translate(267.60px,175.20px) rotate(0.03deg) scaleX(0.9103);font-weight:bold;-webkit-text-stroke:0.3px currentColor;">Rol del ayuntamiento*</div>
<div class="t" style="font-size:5.50px;line-height:6px;color:#33333b;transform:translate(267.60px,190.72px) rotate(0.03deg) scaleX(1.0116);">Rol o roles que desempeñan los</div>
<div class="t" style="font-size:5.50px;line-height:6px;color:#33333b;transform:translate(267.60px,196.51px) rotate(0.03deg) scaleX(1.0116);">ayuntamientos</div>
<div class="b" style="left:268.50px;top:206.40px;width:7.00px;height:7.00px;background:#cdeaa0;border-radius:50%;"></div>
<div class="t" style="font-size:3.40px;line-height:4px;color:#555;transform:translate(277.40px,208.12px) rotate(0.03deg) scaleX(1.1370);">2023</div>
<div class="b" style="left:290.20px;top:206.40px;width:7.00px;height:7.00px;background:#72c02c;border-radius:50%;"></div>
<div class="t" style="font-size:3.40px;line-height:4px;color:#555;transform:translate(298.90px,208.12px) rotate(0.03deg) scaleX(1.1634);">2024</div>
<svg width="730" height="470" style="left:0;top:0" viewBox="0 0 730 470"><polygon points="319.00,260.10 327.49,265.00 327.49,274.80 319.00,279.70 310.51,274.80 310.51,265.00" fill="none" stroke="#ebe9e7" stroke-width="0.5"/><polygon points="319.00,250.30 335.97,260.10 335.97,279.70 319.00,289.50 302.03,279.70 302.03,260.10" fill="none" stroke="#ebe9e7" stroke-width="0.5"/><polygon points="319.00,240.50 344.46,255.20 344.46,284.60 319.00,299.30 293.54,284.60 293.54,255.20" fill="none" stroke="#ebe9e7" stroke-width="0.5"/><polygon points="319.00,236.40 348.01,253.15 348.01,286.65 319.00,303.40 289.99,286.65 289.99,253.15" fill="none" stroke="#e9e6e3" stroke-width="0.5"/><line x1="319.00" y1="269.90" x2="319.00" y2="236.40" stroke="#c9c3bd" stroke-width="0.7"/><line x1="319.00" y1="269.90" x2="348.01" y2="253.15" stroke="#c9c3bd" stroke-width="0.7"/><line x1="319.00" y1="269.90" x2="348.01" y2="286.65" stroke="#c9c3bd" stroke-width="0.7"/><line x1="319.00" y1="269.90" x2="319.00" y2="303.40" stroke="#c9c3bd" stroke-width="0.7"/><line x1="319.00" y1="269.90" x2="289.99" y2="286.65" stroke="#c9c3bd" stroke-width="0.7"/><line x1="319.00" y1="269.90" x2="289.99" y2="253.15" stroke="#c9c3bd" stroke-width="0.7"/><polygon points="319.00,252.26 333.43,261.57 344.46,284.60 319.00,279.21 302.03,279.70 312.21,265.98" fill="#c3e88f" stroke="#b4df7b" stroke-width="0.5"/><polygon points="319.00,254.71 330.46,263.28 346.16,285.58 319.00,278.72 303.30,278.96 313.06,266.47" fill="rgba(118,192,52,0.85)" stroke="#68b32a" stroke-width="0.6"/></svg>
<div class="t" style="font-size:5.30px;line-height:6px;color:#33333b;transform:translate(308.40px,226.35px) rotate(0.03deg) scaleX(0.9726);">Promotor</div>
<div class="t" style="font-size:5.20px;line-height:6px;color:#33333b;transform:translate(311.48px,267.12px) rotate(0.03deg) scaleX(1.0200);">0,00%</div>
<div class="t" style="font-size:5.20px;line-height:6px;color:#33333b;transform:translate(310.01px,257.32px) rotate(0.03deg) scaleX(1.0200);">20,00%</div>
<div class="t" style="font-size:5.20px;line-height:6px;color:#33333b;transform:translate(310.01px,247.52px) rotate(0.03deg) scaleX(1.0200);">40,00%</div>
<div class="t" style="font-size:5.20px;line-height:6px;color:#33333b;transform:translate(310.01px,237.72px) rotate(0.03deg) scaleX(1.0200);">60,00%</div>
<div class="t" style="font-size:5.30px;line-height:6px;color:#33333b;transform:translate(352.70px,247.85px) rotate(0.03deg) scaleX(0.8749);">Socio</div>
<div class="t" style="font-size:5.30px;line-height:6px;color:#33333b;transform:translate(352.20px,286.45px) rotate(0.03deg) scaleX(0.9244);">Facilitador</div>
<div class="t" style="font-size:5.30px;line-height:6px;color:#33333b;transform:translate(306.20px,308.15px) rotate(0.03deg) scaleX(0.9244);">Financiador</div>
<div class="t" style="font-size:5.30px;line-height:6px;color:#33333b;transform:translate(259.50px,286.45px) rotate(0.03deg) scaleX(0.9029);">Consumidor</div>
<div class="t" style="font-size:5.30px;line-height:6px;color:#33333b;transform:translate(264.60px,247.85px) rotate(0.03deg) scaleX(0.8965);">Productor</div>
<div class="t" style="font-size:10.00px;line-height:11px;color:#4fbd7c;transform:translate(266.70px,334.80px) rotate(0.03deg) scaleX(0.9038);font-weight:bold;-webkit-text-stroke:0.3px currentColor;">Tipología</div>
<div class="t" style="font-size:5.50px;line-height:6px;color:#33333b;transform:translate(266.30px,347.81px) rotate(0.03deg) scaleX(1.0363);">Tipo de comunidad energética según el</div>
<div class="t" style="font-size:5.50px;line-height:6px;color:#33333b;transform:translate(266.30px,353.51px) rotate(0.03deg) scaleX(1.0363);">contexto donde se desarrolla</div>
<svg width="730" height="470" style="left:0;top:0" viewBox="0 0 730 470"><path d="M320.70 431.60 L320.70 394.60 A37.00 37.00 0 1 1 285.98 444.39Z" fill="#4b2d79"/><path d="M320.70 431.60 L286.05 444.57 A37.00 37.00 0 0 1 300.45 400.63Z" fill="#4a90e2"/><path d="M320.70 431.60 L300.29 400.74 A37.00 37.00 0 0 1 313.96 395.22Z" fill="#4cba74"/><path d="M320.70 431.60 L313.77 395.26 A37.00 37.00 0 0 1 320.89 394.60Z" fill="#8fd52e"/></svg>
<div class="t" style="font-size:5.30px;line-height:6px;color:#33333b;transform:translate(295.90px,381.95px) rotate(0.03deg) scaleX(1.0185);">Barrio</div>
<div class="t" style="font-size:5.30px;line-height:6px;color:#33333b;transform:translate(297.40px,388.25px) rotate(0.03deg) scaleX(0.9437);">6.3%</div>
<div class="t" style="font-size:5.30px;line-height:6px;color:#33333b;transform:translate(265.00px,409.75px) rotate(0.03deg) scaleX(1.0124);">Urbana</div>
<div class="t" style="font-size:5.30px;line-height:6px;color:#33333b;transform:translate(266.60px,415.85px) rotate(0.03deg) scaleX(0.9582);">21.4%</div>
<div class="t" style="font-size:5.30px;line-height:6px;color:#33333b;transform:translate(354.20px,452.95px) rotate(0.03deg) scaleX(0.9948);">Rural</div>
<div class="t" style="font-size:5.30px;line-height:6px;color:#33333b;transform:translate(353.20px,459.15px) rotate(0.03deg) scaleX(0.9715);">69.3%</div>
<div class="t" style="font-size:10.00px;line-height:11px;color:#4b2d79;transform:translate(393.60px,9.60px) rotate(0.03deg) scaleX(0.9180);font-weight:bold;-webkit-text-stroke:0.3px currentColor;">Actividades que</div>
<div class="t" style="font-size:10.00px;line-height:11px;color:#4b2d79;transform:translate(393.60px,17.90px) rotate(0.03deg) scaleX(0.9163);font-weight:bold;-webkit-text-stroke:0.3px currentColor;">desarrollan</div>
<div class="t" style="font-size:5.50px;line-height:6px;color:#33333b;transform:translate(473.10px,10.51px) rotate(0.03deg) scaleX(1.0161);">Actividades que la Comunidades</div>
<div class="t" style="font-size:5.50px;line-height:6px;color:#33333b;transform:translate(473.10px,16.32px) rotate(0.03deg) scaleX(1.0161);">energéticas desarrollan o tiene</div>
<div class="t" style="font-size:5.50px;line-height:6px;color:#33333b;transform:translate(473.10px,22.12px) rotate(0.03deg) scaleX(1.0161);">voluntad de desarrollar</div>
<div class="b" style="left:418.60px;top:35.10px;width:7.00px;height:7.00px;background:#c39cf7;border-radius:50%;"></div>
<div class="t" style="font-size:3.40px;line-height:4px;color:#444;transform:translate(427.60px,36.82px) rotate(0.03deg) scaleX(1.1576);">En estudio</div>
<div class="b" style="left:452.70px;top:34.90px;width:7.40px;height:7.40px;background:#4b2d79;border-radius:50%;"></div>
<div class="t" style="font-size:3.40px;line-height:4px;color:#444;transform:translate(461.80px,36.82px) rotate(0.03deg) scaleX(1.1611);">En proceso u operativa</div>
<svg width="730" height="470" style="left:0;top:0" viewBox="0 0 730 470"><rect x="428.50" y="47.70" width="125.23" height="8.80" rx="0" fill="#4b2d79"/></svg>
<svg width="730" height="470" style="left:0;top:0" viewBox="0 0 730 470"><rect x="428.50" y="47.70" width="66.84" height="8.80" rx="0" fill="#c39cf7"/></svg>
<div class="t" style="font-size:5.30px;line-height:6px;color:#33333b;transform:translate(391.72px,49.05px) rotate(0.03deg) scaleX(1.0300);">Autoconsumo</div>
<div class="t" style="font-size:5.30px;line-height:6px;color:#3a2466;transform:translate(485.04px,49.05px) rotate(0.03deg) scaleX(1.0300);">340</div>
<div class="t" style="font-size:5.30px;line-height:6px;color:#fff;transform:translate(543.23px,49.05px) rotate(0.03deg) scaleX(1.0300);">297</div>
<svg width="730" height="470" style="left:0;top:0" viewBox="0 0 730 470"><rect x="428.50" y="57.85" width="33.82" height="8.80" rx="0" fill="#4b2d79"/></svg>
<svg width="730" height="470" style="left:0;top:0" viewBox="0 0 730 470"><rect x="428.50" y="57.85" width="24.57" height="8.80" rx="0" fill="#c39cf7"/></svg>
<div class="t" style="font-size:5.30px;line-height:6px;color:#33333b;transform:translate(402.04px,59.20px) rotate(0.03deg) scaleX(1.0300);">Movilidad</div>
<div class="t" style="font-size:5.30px;line-height:6px;color:#3a2466;transform:translate(442.77px,59.20px) rotate(0.03deg) scaleX(1.0300);">125</div>
<div class="t" style="font-size:5.30px;line-height:6px;color:#fff;transform:translate(454.84px,59.20px) rotate(0.03deg) scaleX(1.0300);">47</div>
<svg width="730" height="470" style="left:0;top:0" viewBox="0 0 730 470"><rect x="428.50" y="68.00" width="31.46" height="8.80" rx="0" fill="#4b2d79"/></svg>
<svg width="730" height="470" style="left:0;top:0" viewBox="0 0 730 470"><rect x="428.50" y="68.00" width="19.66" height="8.80" rx="0" fill="#c39cf7"/></svg>
<div class="t" style="font-size:5.30px;line-height:6px;color:#33333b;transform:translate(407.50px,69.35px) rotate(0.03deg) scaleX(1.0300);">Rehab.</div>
<div class="t" style="font-size:5.30px;line-height:6px;color:#3a2466;transform:translate(437.85px,69.35px) rotate(0.03deg) scaleX(1.0300);">100</div>
<div class="t" style="font-size:5.30px;line-height:6px;color:#fff;transform:translate(452.48px,69.35px) rotate(0.03deg) scaleX(1.0300);">60</div>
<svg width="730" height="470" style="left:0;top:0" viewBox="0 0 730 470"><rect x="428.50" y="78.15" width="20.05" height="8.80" rx="0" fill="#4b2d79"/></svg>
<svg width="730" height="470" style="left:0;top:0" viewBox="0 0 730 470"><rect x="428.50" y="78.15" width="18.28" height="8.80" rx="0" fill="#c39cf7"/></svg>
<div class="t" style="font-size:5.30px;line-height:6px;color:#33333b;transform:translate(390.82px,79.50px) rotate(0.03deg) scaleX(1.0300);">Acum/Gestión</div>
<div class="t" style="font-size:5.30px;line-height:6px;color:#3a2466;transform:translate(439.51px,79.50px) rotate(0.03deg) scaleX(1.0300);">93</div>
<svg width="730" height="470" style="left:0;top:0" viewBox="0 0 730 470"><rect x="428.50" y="88.30" width="17.30" height="8.80" rx="0" fill="#4b2d79"/></svg>
<svg width="730" height="470" style="left:0;top:0" viewBox="0 0 730 470"><rect x="428.50" y="88.30" width="15.73" height="8.80" rx="0" fill="#c39cf7"/></svg>
<div class="t" style="font-size:5.30px;line-height:6px;color:#33333b;transform:translate(402.66px,89.65px) rotate(0.03deg) scaleX(1.0300);">Térmicas</div>
<div class="t" style="font-size:5.30px;line-height:6px;color:#3a2466;transform:translate(436.96px,89.65px) rotate(0.03deg) scaleX(1.0300);">80</div>
<svg width="730" height="470" style="left:0;top:0" viewBox="0 0 730 470"><rect x="428.50" y="98.45" width="16.32" height="8.80" rx="0" fill="#4b2d79"/></svg>
<svg width="730" height="470" style="left:0;top:0" viewBox="0 0 730 470"><rect x="428.50" y="98.45" width="15.53" height="8.80" rx="0" fill="#c39cf7"/></svg>
<div class="t" style="font-size:5.30px;line-height:6px;color:#33333b;transform:translate(395.07px,99.80px) rotate(0.03deg) scaleX(1.0300);">Otras EERR</div>
<div class="t" style="font-size:5.30px;line-height:6px;color:#3a2466;transform:translate(436.76px,99.80px) rotate(0.03deg) scaleX(1.0300);">79</div>
<div class="t" style="font-size:10.00px;line-height:11px;color:#4a8fdb;transform:translate(394.70px,136.10px) rotate(0.03deg) scaleX(0.9108);font-weight:bold;-webkit-text-stroke:0.3px currentColor;">Aspectos</div>
<div class="t" style="font-size:10.00px;line-height:11px;color:#4a8fdb;transform:translate(394.70px,144.40px) rotate(0.03deg) scaleX(0.9019);font-weight:bold;-webkit-text-stroke:0.3px currentColor;">sociales</div>
<div class="t" style="font-size:5.50px;line-height:6px;color:#33333b;transform:translate(442.90px,138.91px) rotate(0.03deg) scaleX(1.0298);">Aspectos sociales que abordan o tiene</div>
<div class="t" style="font-size:5.50px;line-height:6px;color:#33333b;transform:translate(442.90px,144.72px) rotate(0.03deg) scaleX(1.0298);">planeado abordar las comunidades</div>
<div class="t" style="font-size:5.50px;line-height:6px;color:#33333b;transform:translate(442.90px,150.51px) rotate(0.03deg) scaleX(1.0298);">energéticas</div>
<div class="b" style="left:390.90px;top:161.00px;width:88.40px;height:84.00px;background:#4b2d79;"></div>
<div class="b" style="left:390.90px;top:245.60px;width:88.40px;height:47.20px;background:#45b873;"></div>
<div class="b" style="left:480.00px;top:161.00px;width:85.10px;height:49.00px;background:#6cb0f6;"></div>
<div class="b" style="left:480.00px;top:210.60px;width:41.20px;height:82.20px;background:#8bc633;"></div>
<div class="b" style="left:522.00px;top:210.60px;width:43.10px;height:34.70px;background:#9a6dd4;"></div>
<div class="b" style="left:522.00px;top:246.00px;width:43.10px;height:33.60px;background:#3f86d9;"></div>
<div class="b" style="left:522.00px;top:280.20px;width:43.10px;height:12.60px;background:#c2ee4c;"></div>
<div class="t" style="font-size:5.90px;line-height:6px;color:#fff;transform:translate(406.00px,199.75px) rotate(0.03deg) scaleX(1.1308);-webkit-text-stroke:0;">Pobreza Energética</div>
<div class="t" style="font-size:5.90px;line-height:6px;color:#fff;transform:translate(413.80px,266.15px) rotate(0.03deg) scaleX(1.1566);-webkit-text-stroke:0;">Vulnerabilidad</div>
<div class="t" style="font-size:5.90px;line-height:6px;color:#fff;transform:translate(511.90px,182.55px) rotate(0.03deg) scaleX(1.0874);opacity:0.9;-webkit-text-stroke:0;">Género</div>
<div class="t" style="font-size:3.60px;line-height:4px;color:#fff;transform:translate(486.20px,249.99px) rotate(0.03deg) scaleX(1.3110);opacity:0.85;-webkit-text-stroke:0;">Despoblación</div>
<div class="t" style="font-size:4.30px;line-height:5px;color:#fff;transform:translate(528.00px,225.42px) rotate(0.03deg) scaleX(1.1964);opacity:0.95;-webkit-text-stroke:0;">Tercera Edad</div>
<div class="t" style="font-size:5.90px;line-height:6px;color:#fff;transform:translate(529.50px,259.95px) rotate(0.03deg) scaleX(1.1526);-webkit-text-stroke:0;">Juventud</div>
<div class="t" style="font-size:5.60px;line-height:6px;color:#fff;transform:translate(537.00px,283.15px) rotate(0.03deg) scaleX(1.1569);opacity:0.85;-webkit-text-stroke:0;">Otro</div>
<div class="t" style="font-size:10.00px;line-height:11px;color:#4a8fdb;transform:translate(392.80px,313.90px) rotate(0.03deg) scaleX(0.9174);font-weight:bold;-webkit-text-stroke:0.3px currentColor;">Nº de socios/as</div>
<div class="t" style="font-size:5.50px;line-height:6px;color:#33333b;transform:translate(464.00px,315.92px) rotate(0.03deg) scaleX(1.0314);">Distribución de las comunidades</div>
<div class="t" style="font-size:5.50px;line-height:6px;color:#33333b;transform:translate(464.00px,321.81px) rotate(0.03deg) scaleX(1.0314);">energéticas según el número de socios</div>
<div class="t" style="font-size:5.50px;line-height:6px;color:#33333b;transform:translate(464.00px,327.71px) rotate(0.03deg) scaleX(1.0314);">que la integran actualmente</div>
<div class="b" style="left:401.00px;top:342.90px;width:25.00px;height:30.70px;background:#3f86d9;border-radius:1.6px 1.6px 0 0;"></div>
<div class="t" style="font-size:4.10px;line-height:5px;color:#222;transform:translate(406.13px,336.15px) rotate(0.03deg) scaleX(1.0600);-webkit-text-stroke:0.18px #222;">58,42%</div>
<div class="t" style="font-size:3.90px;line-height:5px;color:#333;transform:translate(410.06px,374.39px) rotate(0.03deg) scaleX(1.0400);">&lt;20</div>
<div class="b" style="left:428.02px;top:362.90px;width:25.00px;height:10.70px;background:#3f86d9;border-radius:1.6px 1.6px 0 0;"></div>
<div class="t" style="font-size:4.10px;line-height:5px;color:#222;transform:translate(433.15px,356.15px) rotate(0.03deg) scaleX(1.0600);-webkit-text-stroke:0.18px #222;">19,98%</div>
<div class="t" style="font-size:3.90px;line-height:5px;color:#333;transform:translate(433.75px,374.39px) rotate(0.03deg) scaleX(1.0400);">21 a 50</div>
<div class="b" style="left:455.04px;top:366.80px;width:25.00px;height:6.80px;background:#3f86d9;border-radius:1.6px 1.6px 0 0;"></div>
<div class="t" style="font-size:4.10px;line-height:5px;color:#222;transform:translate(460.17px,360.05px) rotate(0.03deg) scaleX(1.0600);-webkit-text-stroke:0.18px #222;">12,44%</div>
<div class="t" style="font-size:3.90px;line-height:5px;color:#333;transform:translate(459.65px,374.39px) rotate(0.03deg) scaleX(1.0400);">51 a 100</div>
<div class="b" style="left:482.06px;top:370.40px;width:25.00px;height:3.20px;background:#3f86d9;border-radius:1.6px 1.6px 0 0;"></div>
<div class="t" style="font-size:4.10px;line-height:5px;color:#222;transform:translate(488.40px,363.65px) rotate(0.03deg) scaleX(1.0600);-webkit-text-stroke:0.18px #222;">5,31%</div>
<div class="t" style="font-size:3.90px;line-height:5px;color:#333;transform:translate(485.54px,374.39px) rotate(0.03deg) scaleX(1.0400);">101 a 200</div>
<div class="b" style="left:509.08px;top:372.40px;width:25.00px;height:1.20px;background:#3f86d9;border-radius:0.6px 0.6px 0 0;"></div>
<div class="t" style="font-size:4.10px;line-height:5px;color:#222;transform:translate(515.42px,365.65px) rotate(0.03deg) scaleX(1.0600);-webkit-text-stroke:0.18px #222;">1,67%</div>
<div class="t" style="font-size:3.90px;line-height:5px;color:#333;transform:translate(512.56px,374.39px) rotate(0.03deg) scaleX(1.0400);">201 a 500</div>
<div class="b" style="left:536.10px;top:372.60px;width:25.00px;height:1.00px;background:#3f86d9;border-radius:0.6px 0.6px 0 0;"></div>
<div class="t" style="font-size:4.10px;line-height:5px;color:#222;transform:translate(542.44px,365.85px) rotate(0.03deg) scaleX(1.0600);-webkit-text-stroke:0.18px #222;">1,21%</div>
<div class="t" style="font-size:3.90px;line-height:5px;color:#333;transform:translate(544.03px,374.39px) rotate(0.03deg) scaleX(1.0400);">&gt;500</div>
<div class="t" style="font-size:10.00px;line-height:11px;color:#4b2d79;transform:translate(391.00px,408.60px) rotate(0.03deg) scaleX(0.9010);font-weight:bold;-webkit-text-stroke:0.3px currentColor;">Año de creación</div>
<div class="t" style="font-size:5.50px;line-height:6px;color:#33333b;transform:translate(391.00px,420.71px) rotate(0.03deg) scaleX(1.0224);">Año en el que se constituyó legalmente la</div>
<div class="t" style="font-size:5.50px;line-height:6px;color:#33333b;transform:translate(391.00px,426.51px) rotate(0.03deg) scaleX(1.0224);">comunidad energética</div>
<div class="b" style="left:396.80px;top:458.00px;width:16.30px;height:6.70px;background:#4b2d79;border-radius:1.8px 1.8px 0 0;"></div>
<div class="t" style="font-size:4.10px;line-height:5px;color:#222;transform:translate(402.56px,452.05px) rotate(0.03deg) scaleX(1.0500);-webkit-text-stroke:0.15px #222;">62</div>
<div class="t" style="font-size:4.00px;line-height:5px;color:#222;transform:translate(391.30px,465.92px) rotate(0.03deg) scaleX(1.0700);-webkit-text-stroke:0.12px #222;">Antes de 2020</div>
<div class="b" style="left:418.40px;top:460.40px;width:16.30px;height:4.30px;background:#4b2d79;border-radius:1.8px 1.8px 0 0;"></div>
<div class="t" style="font-size:4.10px;line-height:5px;color:#222;transform:translate(424.16px,454.45px) rotate(0.03deg) scaleX(1.0500);-webkit-text-stroke:0.15px #222;">40</div>
<div class="t" style="font-size:4.00px;line-height:5px;color:#222;transform:translate(421.79px,465.92px) rotate(0.03deg) scaleX(1.0700);-webkit-text-stroke:0.12px #222;">2021</div>
<div class="b" style="left:440.10px;top:448.20px;width:16.30px;height:16.50px;background:#4b2d79;border-radius:1.8px 1.8px 0 0;"></div>
<div class="t" style="font-size:4.10px;line-height:5px;color:#222;transform:translate(444.66px,442.25px) rotate(0.03deg) scaleX(1.0500);-webkit-text-stroke:0.15px #222;">146</div>
<div class="t" style="font-size:4.00px;line-height:5px;color:#222;transform:translate(443.49px,465.92px) rotate(0.03deg) scaleX(1.0700);-webkit-text-stroke:0.12px #222;">2022</div>
<div class="b" style="left:461.80px;top:441.10px;width:16.30px;height:23.60px;background:#4b2d79;border-radius:1.8px 1.8px 0 0;"></div>
<div class="t" style="font-size:4.10px;line-height:5px;color:#222;transform:translate(466.52px,435.15px) rotate(0.03deg) scaleX(1.0500);-webkit-text-stroke:0.15px #222;">211</div>
<div class="t" style="font-size:4.00px;line-height:5px;color:#222;transform:translate(465.19px,465.92px) rotate(0.03deg) scaleX(1.0700);-webkit-text-stroke:0.12px #222;">2023</div>
<div class="b" style="left:483.30px;top:442.10px;width:16.30px;height:22.60px;background:#4b2d79;border-radius:1.8px 1.8px 0 0;"></div>
<div class="t" style="font-size:4.10px;line-height:5px;color:#222;transform:translate(487.86px,436.15px) rotate(0.03deg) scaleX(1.0500);-webkit-text-stroke:0.15px #222;">200</div>
<div class="t" style="font-size:4.00px;line-height:5px;color:#222;transform:translate(486.69px,465.92px) rotate(0.03deg) scaleX(1.0700);-webkit-text-stroke:0.12px #222;">2024</div>
<div class="t" style="font-size:10.00px;line-height:11px;color:#4fbd7c;transform:translate(586.00px,7.70px) rotate(0.03deg) scaleX(0.9173);font-weight:bold;-webkit-text-stroke:0.3px currentColor;">Modelo de financiación*</div>
<div class="t" style="font-size:5.50px;line-height:6px;color:#33333b;transform:translate(586.00px,20.62px) rotate(0.03deg) scaleX(1.0295);">Fuentes de financiación a las que</div>
<div class="t" style="font-size:5.50px;line-height:6px;color:#33333b;transform:translate(586.00px,26.62px) rotate(0.03deg) scaleX(1.0295);">recurren las comunidades energéticas</div>
<div class="b" style="left:602.20px;top:47.70px;width:22.80px;height:22.80px;background:#4a93e6;border-radius:50%;"></div>
<div class="b" style="left:625.30px;top:52.80px;width:26.60px;height:26.60px;background:#8cc63a;border-radius:50%;"></div>
<div class="b" style="left:653.00px;top:51.00px;width:19.60px;height:19.60px;background:#3fae6c;border-radius:50%;"></div>
<div class="b" style="left:590.20px;top:72.00px;width:47.60px;height:47.60px;background:#4b2d79;border-radius:50%;"></div>
<div class="b" style="left:639.40px;top:72.40px;width:46.20px;height:46.20px;background:#17c2c2;border-radius:50%;box-shadow:inset 0 0 0 0.8px #22e0e0;"></div>
<div class="b" style="left:620.20px;top:113.40px;width:37.20px;height:37.20px;background:#9a6dd4;border-radius:50%;"></div>
<div class="t" style="font-size:5.60px;line-height:6px;color:#fff;transform:translate(607.80px,56.15px) rotate(0.03deg) scaleX(1.0651);opacity:0.95;-webkit-text-stroke:0;">Otra</div>
<div class="t" style="font-size:5.60px;line-height:6px;color:#fff;transform:translate(632.80px,63.15px) rotate(0.03deg) scaleX(1.0446);opacity:0.9;-webkit-text-stroke:0;">Ayto</div>
<div class="t" style="font-size:2.90px;line-height:4px;color:#fff;transform:translate(656.60px,58.86px) rotate(0.03deg) scaleX(0.8273);opacity:0.85;-webkit-text-stroke:0;">F. Colectiva</div>
<div class="t" style="font-size:4.60px;line-height:5px;color:#fff;transform:translate(596.90px,93.52px) rotate(0.03deg) scaleX(1.0786);opacity:0.95;-webkit-text-stroke:0;">Fondos propios</div>
<div class="t" style="font-size:5.60px;line-height:6px;color:#fff;transform:translate(652.70px,92.55px) rotate(0.03deg) scaleX(1.0550);opacity:0.9;-webkit-text-stroke:0;">Ayudas</div>
<div class="t" style="font-size:5.30px;line-height:6px;color:#fff;transform:translate(626.20px,128.95px) rotate(0.03deg) scaleX(1.0561);opacity:0.9;-webkit-text-stroke:0;">F. Externa</div>
<div class="t" style="font-size:10.00px;line-height:11px;color:#4b2d79;transform:translate(587.50px,172.30px) rotate(0.03deg) scaleX(0.8969);font-weight:bold;-webkit-text-stroke:0.3px currentColor;">Figura jurídica</div>
<div class="t" style="font-size:5.50px;line-height:6px;color:#33333b;transform:translate(587.10px,185.22px) rotate(0.03deg) scaleX(1.0107);">Figura jurídica bajo la que se han</div>
<div class="t" style="font-size:5.50px;line-height:6px;color:#33333b;transform:translate(587.10px,190.81px) rotate(0.03deg) scaleX(1.0107);">constituido formalmente las</div>
<div class="t" style="font-size:5.50px;line-height:6px;color:#33333b;transform:translate(587.10px,196.41px) rotate(0.03deg) scaleX(1.0107);">comunidades energéticas</div>
<svg width="730" height="470" style="left:0;top:0" viewBox="0 0 730 470"><path d="M636.70 248.70 L636.70 232.10 A32.40 32.40 0 0 1 666.70 276.74 L651.33 270.47 A15.80 15.80 0 0 0 636.70 248.70Z" fill="#2f74c8"/><path d="M651.35 270.42 L666.74 276.64 A32.40 32.40 0 1 1 633.54 232.25 L635.16 248.78 A15.80 15.80 0 1 0 651.35 270.42Z" fill="#4b2d79"/><path d="M635.10 248.78 L633.43 232.27 A32.40 32.40 0 0 1 636.70 232.10 L636.70 248.70 A15.80 15.80 0 0 0 635.10 248.78Z" fill="#7cc142"/><path d="M636.70 255.90 L636.70 248.30 A16.20 16.20 0 1 1 635.57 280.66 L636.10 273.08 A8.60 8.60 0 1 0 636.70 255.90Z" fill="#5ea2ee"/><path d="M636.13 273.08 L635.63 280.66 A16.20 16.20 0 0 1 636.30 248.30 L636.49 255.90 A8.60 8.60 0 0 0 636.13 273.08Z" fill="#b173fa"/><path d="M636.46 255.90 L636.25 248.31 A16.20 16.20 0 0 1 636.70 248.30 L636.70 255.90 A8.60 8.60 0 0 0 636.46 255.90Z" fill="#9ad65c"/><circle cx="636.7" cy="264.5" r="8.9" fill="#fff"/></svg>
<div class="t" style="font-size:4.20px;line-height:5px;color:#4b2d79;transform:translate(631.40px,261.99px) rotate(0.03deg) scaleX(1.1345);font-weight:bold;">2023</div>
<div class="t" style="font-size:5.30px;line-height:6px;color:#33333b;transform:translate(629.20px,217.95px) rotate(0.03deg) scaleX(1.0478);">Otra</div>
<div class="t" style="font-size:5.30px;line-height:6px;color:#33333b;transform:translate(628.80px,224.15px) rotate(0.03deg) scaleX(0.9602);">1.6%</div>
<div class="t" style="font-size:5.30px;line-height:6px;color:#33333b;transform:translate(666.10px,232.55px) rotate(0.03deg) scaleX(1.0323);">Coop.</div>
<div class="t" style="font-size:5.30px;line-height:6px;color:#33333b;transform:translate(666.10px,239.75px) rotate(0.03deg) scaleX(0.9715);">31.1%</div>
<div class="t" style="font-size:5.30px;line-height:6px;color:#33333b;transform:translate(595.10px,285.25px) rotate(0.03deg) scaleX(1.0260);">Asoc.</div>
<div class="t" style="font-size:5.30px;line-height:6px;color:#33333b;transform:translate(594.60px,291.65px) rotate(0.03deg) scaleX(0.9715);">67.3%</div>
<svg width="730" height="470" style="left:0;top:0" viewBox="0 0 730 470"><path d="M526 461.5 C536 457 548 459.5 556 462.5 C566 464 578 461.5 590 456.5" fill="none" stroke="#999" stroke-width="0.4"/><path d="M546.2 422.6 L551.0 415.0 L556.3 422.6 L556.3 441.0 L546.2 438.0Z" fill="#c2c2c2" stroke="#555" stroke-width="0.45" stroke-linejoin="round" stroke-linecap="round"/><path d="M556.3 422.6 L569.0 422.6 L569.0 438.0 L556.3 441.0Z" fill="#fff" stroke="#555" stroke-width="0.45" stroke-linejoin="round" stroke-linecap="round"/><path d="M551.0 415.0 L563.6 415.0 L569.0 422.6 L556.3 422.6Z" fill="#fff" stroke="#555" stroke-width="0.45" stroke-linejoin="round" stroke-linecap="round"/><path d="M562.5 434.4 L569.0 426.8 L575.7 434.4 L575.7 453.0 L562.5 450.0Z" fill="#c2c2c2" stroke="#555" stroke-width="0.45" stroke-linejoin="round" stroke-linecap="round"/><path d="M575.7 434.4 L581.6 426.8 L586.2 434.4 L586.2 452.3 L575.7 453.0Z" fill="#fff" stroke="#555" stroke-width="0.45" stroke-linejoin="round" stroke-linecap="round"/><path d="M569.0 426.8 L581.6 426.8 L575.7 434.4 L562.5 434.4Z" fill="#fff" stroke="#555" stroke-width="0.45" stroke-linejoin="round" stroke-linecap="round"/><path d="M579.4 452.6 V447.6 C579.4 445.4 582.6 445.4 582.6 447.6 V452.4Z" fill="#8e63c9" stroke="#555" stroke-width="0.4"/><circle cx="580.9" cy="438" r="1.4" fill="#fff" stroke="#555" stroke-width="0.4"/><path d="M527.2 438.7 L533.9 429.8 L540.6 438.7 L540.6 456.0 L527.2 458.4Z" fill="#c2c2c2" stroke="#555" stroke-width="0.45" stroke-linejoin="round" stroke-linecap="round"/><path d="M533.9 429.8 L546.6 429.8 L553.6 437.6 L540.6 438.7Z" fill="#fff" stroke="#555" stroke-width="0.45" stroke-linejoin="round" stroke-linecap="round"/><path d="M540.6 438.7 L553.6 437.6 L553.6 452.0 L540.6 456.0Z" fill="#fff" stroke="#555" stroke-width="0.45" stroke-linejoin="round" stroke-linecap="round"/><path d="M531.2 439.4 L535.8 439.4 L535.8 445.4 L531.2 445.4Z" fill="#fff" stroke="#555" stroke-width="0.45" stroke-linejoin="round" stroke-linecap="round"/><path d="M533.5 439.4 V445.4 M531.2 442.4 H535.8" stroke="#555" stroke-width="0.35" fill="none"/><path d="M543.2 448.4 L550.4 439.2 L565.2 439.2 L558.5 448.4Z" fill="#fff" stroke="#555" stroke-width="0.45" stroke-linejoin="round" stroke-linecap="round"/><path d="M543.6 448.4 L558.5 448.4 L558.5 461.8 L543.6 462.4Z" fill="#c2c2c2" stroke="#555" stroke-width="0.45" stroke-linejoin="round" stroke-linecap="round"/><path d="M558.5 448.4 L565.4 439.4 L572.8 448.6 L572.8 461.0 L558.5 461.8Z" fill="#fff" stroke="#555" stroke-width="0.45" stroke-linejoin="round" stroke-linecap="round"/><path d="M563.2 451.2 L568.6 451.2 L568.6 457.6 L563.2 457.6Z" fill="#fff" stroke="#555" stroke-width="0.45" stroke-linejoin="round" stroke-linecap="round"/><path d="M565.9 451.2 V457.6 M563.2 454.4 H568.6" stroke="#555" stroke-width="0.35" fill="none"/><rect x="547.2" y="451.6" width="2.4" height="4.4" rx="1" fill="#fff" stroke="#555" stroke-width="0.35"/><rect x="552.8" y="451.6" width="2.4" height="4.4" rx="1" fill="#fff" stroke="#555" stroke-width="0.35"/><rect x="549.6" y="424.4" width="2.2" height="4" rx="1" fill="#fff" stroke="#555" stroke-width="0.35"/><rect x="560.6" y="425.4" width="2.8" height="5" rx="1.3" fill="#fff" stroke="#555" stroke-width="0.35"/><rect x="569.6" y="437.4" width="2.2" height="4" rx="1" fill="#fff" stroke="#555" stroke-width="0.35"/><path d="M553.5 415.0 L558.8 422.6 M556.0 415.0 L561.4 422.6 M558.6 415.0 L563.9 422.6 M561.1 415.0 L566.5 422.6 M552.8 417.5 L565.4 417.5 M554.5 420.1 L567.2 420.1 " stroke="#555" stroke-width="0.3" fill="none"/><path d="M571.5 426.8 L565.1 434.4 M574.0 426.8 L567.8 434.4 M576.6 426.8 L570.4 434.4 M579.1 426.8 L573.1 434.4 M566.8 429.3 L579.6 429.3 M564.7 431.9 L577.7 431.9 " stroke="#555" stroke-width="0.3" fill="none"/><path d="M536.4 429.8 L543.2 438.5 M539.0 429.8 L545.8 438.3 M541.5 429.8 L548.4 438.0 M544.1 429.8 L551.0 437.8 M536.1 432.8 L548.9 432.4 M538.4 435.7 L551.3 435.0 " stroke="#555" stroke-width="0.3" fill="none"/><path d="M553.4 439.2 L546.3 448.4 M556.3 439.2 L549.3 448.4 M559.3 439.2 L552.4 448.4 M562.2 439.2 L555.4 448.4 M548.0 442.3 L563.0 442.3 M545.6 445.3 L560.7 445.3 " stroke="#555" stroke-width="0.3" fill="none"/><path d="M530.6 457.4 C531 454 535.6 452.6 537.4 455.6 L537.6 456.6Z" fill="#7fb04a" stroke="none"/><ellipse cx="539.4" cy="461.8" rx="2" ry="1.2" fill="#6f93a8"/><path d="M533.6 415.7 h9.6 c1.6 0 1.6 -2.6 -0.4 -2.6 c-0.2 -1.6 -2.4 -2.2 -3.4 -1 c-1 -1.6 -3.6 -1.2 -3.8 1 c-2.2 -0.2 -2.8 2.6 -2 2.6Z" fill="#4b87d9"/><path d="M566.7 414.2 h9.6 c1.6 0 1.6 -2.6 -0.4 -2.6 c-0.2 -1.6 -2.4 -2.2 -3.4 -1 c-1 -1.6 -3.6 -1.2 -3.8 1 c-2.2 -0.2 -2.8 2.6 -2 2.6Z" fill="#4b87d9"/><path d="M664.0 396.0 L667.0 414.0 L669.7 450.0 L687.0 447.5 L683.0 432.0 L679.0 420.0 L677.7 402.0 L672.0 398.5Z" fill="#fff" stroke="#1d1d1f" stroke-width="0.9" stroke-linejoin="round" stroke-linecap="round"/><path d="M670.3 450.0 L686.8 447.6 L685.7 455.7 L680.9 460.5 L680.1 472.0 L672.9 472.0Z" fill="#4b87d9" stroke="#1d1d1f" stroke-width="0.9" stroke-linejoin="round" stroke-linecap="round"/><path d="M677.2 403.0 C678.3 400.8 680.5 399.1 682.5 399.4 C684.5 399.7 686.8 400.8 688.9 404.6 C691.0 408.4 693.2 415.7 695.3 422.1 C697.4 428.5 700.0 434.6 701.6 442.9 C703.2 451.2 705.5 467.1 705.0 472.0 C704.5 476.9 700.4 474.4 698.5 472.0 C696.6 469.6 695.6 461.9 693.7 457.3 C691.8 452.7 689.6 449.6 687.3 444.5 C685.0 439.4 682.0 432.2 680.1 426.9 C678.2 421.6 676.6 416.6 676.1 412.6 C675.6 408.6 676.1 405.2 677.2 403.0Z" fill="#fff" stroke="#1d1d1f" stroke-width="0.9" stroke-linejoin="round" stroke-linecap="round"/><path d="M657.0 374.5 C656.1 374.7 656.1 376.9 655.5 378.0 C654.9 379.1 653.5 380.1 653.4 381.0 C653.3 381.9 654.8 382.7 655.0 383.5 C655.2 384.3 654.3 384.8 654.6 386.0 C654.9 387.2 656.1 389.6 657.0 391.0 C657.9 392.4 658.5 393.5 660.0 394.5 C661.5 395.5 664.0 396.6 666.0 397.0 C668.0 397.4 670.3 397.7 672.0 397.0 C673.7 396.3 675.8 394.8 676.0 393.0 C676.2 391.2 674.2 388.5 673.0 386.0 C671.8 383.5 669.9 379.9 669.0 378.0 C668.1 376.1 668.7 375.2 667.8 374.5 C666.9 373.8 664.6 373.4 663.4 373.8 C662.2 374.2 661.9 376.9 660.8 377.0 C659.7 377.1 657.9 374.3 657.0 374.5Z" fill="#fff" stroke="#1d1d1f" stroke-width="0.9" stroke-linejoin="round" stroke-linecap="round"/><path d="M654.5 369.3 C654.9 368.1 656.2 365.8 657.5 364.5 C658.8 363.2 660.4 362.4 662.1 361.7 C663.9 360.9 665.9 360.2 668.0 360.0 C670.1 359.8 672.7 360.0 674.9 360.4 C677.1 360.8 679.1 361.3 681.0 362.2 C682.9 363.1 684.8 364.2 686.3 365.5 C687.8 366.8 689.0 368.3 690.0 370.0 C691.0 371.7 691.8 373.9 692.1 375.7 C692.4 377.5 692.4 379.3 692.0 381.0 C691.6 382.7 690.6 384.4 689.5 385.9 C688.4 387.4 687.1 388.8 685.5 390.0 C683.9 391.2 681.8 392.8 680.0 393.0 C678.2 393.2 676.5 392.2 675.0 391.5 C673.5 390.8 672.1 389.6 671.0 388.5 C669.9 387.4 669.1 386.3 668.5 385.0 C667.9 383.7 667.4 382.1 667.2 380.8 C667.0 379.5 667.3 378.1 667.4 377.0 C667.5 375.9 668.1 375.1 667.8 374.5 C667.5 373.9 666.2 373.5 665.5 373.4 C664.8 373.3 664.0 373.4 663.4 373.8 C662.8 374.2 662.4 375.3 662.0 375.8 C661.6 376.3 661.4 376.9 660.8 377.0 C660.2 377.1 659.2 376.6 658.6 376.2 C658.0 375.8 657.5 375.2 657.0 374.5 C656.5 373.8 655.8 372.9 655.4 372.0 C655.0 371.1 654.1 370.6 654.5 369.3Z" fill="#1d1d1f" stroke="#1d1d1f" stroke-width="0.6" stroke-linejoin="round" stroke-linecap="round"/><path d="M672 360.6 L670.4 358.2 M675.4 360.6 L677.6 358.8" stroke="#1d1d1f" stroke-width="0.7" fill="none" stroke-linecap="round"/><ellipse cx="675.4" cy="385.4" rx="2.1" ry="2.5" fill="#fff"/><path d="M683 392.6 C687.5 390.5 691.5 386 692.6 380" stroke="#fff" stroke-width="0.5" fill="none"/><path d="M666.3 404.8 C669 407 674 404.6 677.6 400.8" stroke="#1d1d1f" stroke-width="1.1" fill="none" stroke-linecap="round"/><path d="M693.8 456 C695.5 453.6 699 452.8 701 453.6 M697.4 456.6 C698.6 459 700 461.6 701 462.4" stroke="#1d1d1f" stroke-width="0.8" fill="none" stroke-linecap="round"/><path d="M636.0 433.3 L652.5 430.8 L654.5 436.0 L653.7 441.3 L651.3 446.0 L661.0 448.5 L664.9 472.0 L637.5 472.0Z" fill="#a9a9a9" stroke="#1d1d1f" stroke-width="0.9" stroke-linejoin="round" stroke-linecap="round"/><path d="M644.5 440 C643.5 450 645.5 460 646.4 470" stroke="#1d1d1f" stroke-width="0.7" fill="none"/><path d="M633.0 389.6 L638.0 391.0 L643.6 390.6 L642.4 395.0 L640.4 403.0 L640.2 411.0 L642.6 423.7 L649.0 430.9 L652.1 431.0 L636.0 433.5 L635.4 427.0 L633.8 410.0Z" fill="#5b2c90" stroke="#5b2c90" stroke-width="0.5" stroke-linejoin="round" stroke-linecap="round"/><path d="M643.6 390.6 C644.8 389.9 647.1 390.4 649.0 391.0 C650.9 391.6 653.0 392.0 655.0 394.0 C657.0 396.0 659.3 399.0 660.9 403.0 C662.5 407.0 663.8 414.0 664.6 418.0 C665.4 422.0 665.8 422.8 665.7 426.9 C665.6 431.0 664.5 439.3 664.1 442.9 C663.7 446.5 665.4 448.0 663.3 448.5 C661.2 449.0 652.9 447.2 651.3 446.0 C649.7 444.8 653.2 443.7 653.7 441.3 C654.2 438.9 655.3 433.4 654.5 431.7 C653.7 430.0 651.0 432.2 649.0 430.9 C647.0 429.6 644.1 427.0 642.6 423.7 C641.1 420.4 640.5 414.6 640.2 411.0 C639.9 407.4 640.3 404.7 640.6 402.0 C640.9 399.3 641.5 396.9 642.0 395.0 C642.5 393.1 642.4 391.3 643.6 390.6Z" fill="#fff" stroke="#1d1d1f" stroke-width="0.9" stroke-linejoin="round" stroke-linecap="round"/><path d="M649 392 C650.5 405 653.5 420 654.5 431.7 M651.3 446 C654 444.6 660 445.6 663.3 448.5" stroke="#1d1d1f" stroke-width="0.8" fill="none"/><path d="M630.2 364.5 C628.4 365.0 629.2 366.0 628.5 367.0 C627.8 368.0 626.1 369.7 626.1 370.6 C626.1 371.5 628.0 371.5 628.2 372.2 C628.4 372.9 627.2 374.2 627.3 375.0 C627.3 375.8 628.4 376.2 628.5 377.0 C628.6 377.8 627.5 378.4 628.0 379.5 C628.5 380.6 630.2 382.6 631.5 383.6 C632.8 384.6 634.3 385.3 636.0 385.6 C637.7 385.9 640.1 386.1 641.7 385.3 C643.3 384.5 644.5 382.7 645.5 381.0 C646.5 379.3 647.4 377.0 647.5 375.0 C647.6 373.0 647.4 370.8 646.0 369.0 C644.6 367.2 641.7 364.8 639.1 364.0 C636.5 363.2 632.0 364.0 630.2 364.5Z" fill="#fff" stroke="#1d1d1f" stroke-width="0.9" stroke-linejoin="round" stroke-linecap="round"/><path d="M625.7 354.0 C626.2 352.8 627.4 351.1 629.0 350.0 C630.6 348.9 633.1 348.1 635.3 347.7 C637.5 347.3 639.7 347.2 642.0 347.4 C644.3 347.6 647.1 348.0 649.3 348.7 C651.5 349.4 653.3 350.3 655.0 351.4 C656.7 352.4 658.3 353.7 659.5 355.0 C660.7 356.3 661.6 357.6 662.1 359.1 C662.6 360.6 662.6 362.4 662.4 364.0 C662.2 365.6 661.6 367.6 660.8 369.0 C660.0 370.4 658.7 371.7 657.4 372.6 C656.1 373.5 654.2 374.0 652.8 374.6 C651.4 375.2 650.2 376.2 649.0 376.4 C647.8 376.6 646.1 376.3 645.5 375.7 C644.9 375.1 645.4 373.5 645.2 372.6 C645.0 371.8 644.8 371.3 644.2 370.6 C643.6 369.9 642.6 369.0 641.8 368.4 C640.9 367.8 640.3 367.3 639.1 366.8 C637.9 366.3 636.3 366.0 634.8 365.6 C633.3 365.2 631.4 365.0 630.2 364.2 C629.0 363.4 628.3 362.1 627.6 361.0 C626.9 359.9 626.3 358.7 626.0 357.5 C625.7 356.3 625.2 355.2 625.7 354.0Z" fill="#6a6a6a" stroke="#1d1d1f" stroke-width="0.6" stroke-linejoin="round" stroke-linecap="round"/><path d="M628.0 362.0 Q629.0 353.0 637.0 349.0 M631.0 364.0 Q633.0 354.0 642.0 349.5 M634.5 365.4 Q637.0 355.0 647.0 350.6 M638.5 366.6 Q641.0 357.0 651.5 352.6 M642.4 368.8 Q645.5 359.0 656.0 355.0 M645.0 372.0 Q649.5 362.5 659.5 358.0 M647.5 375.2 Q653.0 366.5 661.5 361.5 M650.5 375.4 Q656.5 369.5 662.0 365.5 " stroke="#1d1d1f" stroke-width="1.15" fill="none" stroke-linecap="round"/><path d="M629.6 363.0 Q631.0 353.6 639.5 349.2 M636.5 366.0 Q639.0 356.0 649.3 351.6 M643.8 370.4 Q647.5 360.6 658.0 356.4 " stroke="#d8d8d8" stroke-width="0.5" fill="none" stroke-linecap="round"/><ellipse cx="647.4" cy="374.8" rx="2.1" ry="3" fill="#fff" stroke="#1d1d1f" stroke-width="0.7" transform="rotate(25 647.4 374.8)"/><path d="M632.4 367.4 L634.4 367.6 M627.6 377.4 C628.6 378.2 629.8 378.2 630.6 377.8" stroke="#1d1d1f" stroke-width="0.7" fill="none" stroke-linecap="round"/><path d="M597.7 472.0 L597.7 410.0 L599.0 398.0 L606.0 400.5 L613.0 399.5 L617.7 399.8 L625.7 404.6 L629.7 417.4 L628.9 431.7 L628.9 447.7 L631.3 460.5 L633.0 472.0Z" fill="#fff" stroke="#1d1d1f" stroke-width="0.9" stroke-linejoin="round" stroke-linecap="round"/><path d="M614.6 403.4 C615.1 401.7 616.5 400.1 617.7 399.8 C618.9 399.5 620.7 400.6 622.0 401.4 C623.3 402.2 624.6 403.2 625.7 404.6 C626.8 406.0 627.7 407.9 628.4 410.0 C629.1 412.1 629.5 414.9 629.7 417.4 C629.9 419.9 629.7 422.6 629.6 425.0 C629.5 427.4 629.3 428.7 628.9 431.7 C628.5 434.7 629.4 441.4 627.3 442.9 C625.2 444.4 617.6 441.8 616.1 440.5 C614.6 439.2 617.9 436.5 618.3 435.0 C618.7 433.5 618.6 433.4 618.5 431.7 C618.4 430.0 617.8 427.1 617.4 425.0 C617.0 422.9 616.5 421.5 616.1 419.0 C615.7 416.5 615.0 412.6 614.8 410.0 C614.5 407.4 614.1 405.1 614.6 403.4Z" fill="#fff" stroke="#1d1d1f" stroke-width="0.9" stroke-linejoin="round" stroke-linecap="round"/><path d="M615.5 447.5 C616.8 447.1 620.5 448.6 621.5 449.5 C622.5 450.4 621.8 451.9 621.6 453.0 C621.4 454.1 620.6 455.0 620.4 456.0 C620.2 457.0 620.8 458.1 620.6 459.0 C620.4 459.9 619.9 461.0 619.0 461.3 C618.1 461.6 616.5 461.7 615.5 461.0 C614.5 460.3 613.3 458.5 613.0 457.0 C612.7 455.5 613.1 453.6 613.5 452.0 C613.9 450.4 614.2 447.9 615.5 447.5Z" fill="#a5a5a5" stroke="#1d1d1f" stroke-width="0.8" stroke-linejoin="round" stroke-linecap="round"/><path d="M614.9 440 L627.6 443.6 L626.6 447.6 L613.9 444.2Z" fill="#fff" stroke="#1d1d1f" stroke-width="0.9" stroke-linejoin="round"/><path d="M602 408 V470 M606.5 462 C606.2 466 606.8 468 607.4 470" stroke="#1d1d1f" stroke-width="0.7" fill="none"/><path d="M574.2 381.5 C571.6 381.9 572.5 385.4 572.0 387.0 C571.5 388.6 571.4 389.6 571.4 391.0 C571.4 392.4 571.4 393.6 572.2 395.4 C573.0 397.2 574.5 399.9 576.0 402.0 C577.5 404.1 579.0 406.4 581.0 407.8 C583.0 409.2 585.6 409.9 588.0 410.6 C590.4 411.3 593.6 411.8 595.3 411.8 C597.0 411.8 597.5 412.6 598.0 410.5 C598.5 408.4 599.3 401.2 598.6 399.0 C597.9 396.8 595.6 398.1 594.0 397.4 C592.4 396.7 590.4 396.0 589.0 395.0 C587.6 394.0 586.3 392.8 585.6 391.6 C584.9 390.4 584.7 389.2 585.0 388.0 C585.3 386.8 589.4 385.5 587.6 384.4 C585.8 383.3 576.8 381.1 574.2 381.5Z" fill="#fff" stroke="#1d1d1f" stroke-width="0.9" stroke-linejoin="round" stroke-linecap="round"/><path d="M573.9 378 L588.8 383.2 L587.6 387.2 L572.9 382.2Z" fill="#fff" stroke="#1d1d1f" stroke-width="0.9" stroke-linejoin="round"/><path d="M598.6 396.8 C599.6 403.4 607.6 403.6 613.8 397.2" stroke="#1d1d1f" stroke-width="1.5" fill="#fff" stroke-linecap="round"/><path d="M603.4 399.2 C605 401.4 609.6 400.8 612.4 398.4" stroke="#1d1d1f" stroke-width="0.9" fill="none" stroke-linecap="round"/><g fill="#c3de80"><ellipse cx="576.6" cy="399.2" rx="1.45" ry="0.8" transform="rotate(30 576.6 399.2)"/><ellipse cx="580.6" cy="402.6" rx="1.45" ry="0.8" transform="rotate(20 580.6 402.6)"/><ellipse cx="589.4" cy="404.0" rx="1.45" ry="0.8" transform="rotate(-20 589.4 404.0)"/><ellipse cx="583.6" cy="396.6" rx="1.45" ry="0.8" transform="rotate(40 583.6 396.6)"/><ellipse cx="603.2" cy="420.6" rx="1.45" ry="0.8" transform="rotate(50 603.2 420.6)"/><ellipse cx="610.4" cy="414.0" rx="1.45" ry="0.8" transform="rotate(-30 610.4 414.0)"/><ellipse cx="606.0" cy="434.8" rx="1.45" ry="0.8" transform="rotate(45 606.0 434.8)"/><ellipse cx="608.6" cy="445.4" rx="1.45" ry="0.8" transform="rotate(-40 608.6 445.4)"/><ellipse cx="603.0" cy="452.8" rx="1.45" ry="0.8" transform="rotate(20 603.0 452.8)"/><ellipse cx="610.0" cy="458.0" rx="1.45" ry="0.8" transform="rotate(-30 610.0 458.0)"/><ellipse cx="620.2" cy="411.4" rx="1.45" ry="0.8" transform="rotate(30 620.2 411.4)"/><ellipse cx="624.6" cy="421.0" rx="1.45" ry="0.8" transform="rotate(-40 624.6 421.0)"/><ellipse cx="622.2" cy="425.8" rx="1.45" ry="0.8" transform="rotate(30 622.2 425.8)"/><ellipse cx="625.4" cy="432.8" rx="1.45" ry="0.8" transform="rotate(-30 625.4 432.8)"/><ellipse cx="612.6" cy="425.6" rx="1.45" ry="0.8" transform="rotate(20 612.6 425.6)"/><ellipse cx="626.4" cy="460.4" rx="1.45" ry="0.8" transform="rotate(-30 626.4 460.4)"/><ellipse cx="601.6" cy="441.0" rx="1.45" ry="0.8" transform="rotate(30 601.6 441.0)"/><ellipse cx="605.0" cy="463.5" rx="1.45" ry="0.8" transform="rotate(20 605.0 463.5)"/></g><path d="M600.7 364.9 C602.4 365.0 607.2 365.9 609.7 367.4 C612.2 368.9 614.4 372.0 615.4 373.8 C616.4 375.6 616.0 376.7 616.0 378.3 C616.0 379.9 616.0 381.7 615.4 383.4 C614.8 385.1 613.3 387.5 612.2 388.5 C611.1 389.5 610.5 389.4 609.0 389.3 C607.5 389.2 604.8 389.0 603.3 388.2 C601.8 387.4 600.8 385.9 600.1 384.7 C599.4 383.5 599.3 381.9 599.2 380.8 C599.1 379.7 600.0 379.2 599.7 378.3 C599.4 377.4 597.7 376.5 597.5 375.7 C597.3 374.9 598.0 374.2 598.4 373.4 C598.8 372.5 599.5 371.7 599.7 370.6 C599.9 369.5 599.3 367.8 599.5 366.8 C599.7 365.9 599.0 364.8 600.7 364.9Z" fill="#cbcbcb" stroke="#1d1d1f" stroke-width="0.8" stroke-linejoin="round" stroke-linecap="round"/><path d="M598.8 362.3 C598.8 361.3 599.9 359.9 600.6 359.0 C601.4 358.1 602.3 357.3 603.3 356.6 C604.3 355.9 605.3 355.4 606.4 355.0 C607.5 354.6 608.5 354.4 609.7 354.3 C610.9 354.2 612.3 354.2 613.6 354.3 C614.9 354.4 616.2 354.7 617.3 355.1 C618.4 355.5 619.4 356.1 620.2 356.8 C621.1 357.5 621.7 358.2 622.4 359.1 C623.1 360.0 623.8 360.9 624.2 362.0 C624.6 363.1 624.9 364.3 625.0 365.5 C625.1 366.7 625.1 367.9 625.0 369.0 C624.9 370.1 624.3 371.0 624.3 371.9 C624.3 372.8 624.9 373.5 625.2 374.4 C625.5 375.2 626.1 376.1 626.2 377.0 C626.3 377.9 626.2 378.9 626.0 379.8 C625.8 380.7 625.0 381.1 625.0 382.1 C625.0 383.1 625.7 384.5 626.2 385.6 C626.7 386.7 628.1 387.5 628.2 388.5 C628.3 389.5 627.5 390.5 627.0 391.4 C626.5 392.2 625.9 393.0 625.0 393.6 C624.1 394.2 622.7 394.6 621.4 394.8 C620.1 395.0 618.4 395.1 617.3 394.9 C616.2 394.7 615.4 394.2 614.6 393.8 C613.9 393.4 613.2 392.9 612.8 392.3 C612.4 391.7 612.1 391.0 612.0 390.4 C611.9 389.8 611.9 389.2 612.2 388.5 C612.5 387.8 613.5 386.9 614.0 386.0 C614.5 385.1 615.1 384.3 615.4 383.4 C615.7 382.5 615.9 381.6 616.0 380.8 C616.1 380.0 616.1 379.1 616.0 378.3 C615.9 377.5 615.8 376.8 615.6 376.0 C615.4 375.2 615.3 374.7 614.8 373.8 C614.3 372.9 613.4 371.5 612.5 370.4 C611.6 369.3 610.6 368.1 609.7 367.4 C608.8 366.7 607.9 366.5 607.0 366.2 C606.1 365.9 605.6 365.7 604.6 365.5 C603.6 365.3 601.7 365.4 600.7 364.9 C599.7 364.4 598.8 363.3 598.8 362.3Z" fill="#1d1d1f" stroke="#1d1d1f" stroke-width="0.5" stroke-linejoin="round" stroke-linecap="round"/><ellipse cx="618.4" cy="378.4" rx="1.5" ry="1.9" fill="#ddd"/><path d="M604.2 371.6 C605.2 372.4 606.6 372.2 607.4 371.4 M600.4 381.6 C601.2 382.4 602.4 382.4 603.2 382" stroke="#1d1d1f" stroke-width="0.6" fill="none" stroke-linecap="round"/><path d="M581.4 373.0 C581.9 372.2 582.8 371.6 584.0 371.4 C585.2 371.2 587.5 371.5 588.6 372.0 C589.7 372.5 590.4 373.5 590.6 374.4 C590.8 375.3 590.6 376.7 590.0 377.6 C589.4 378.5 588.4 379.4 587.2 379.6 C586.0 379.8 583.7 379.2 582.6 378.6 C581.5 378.0 581.0 376.9 580.8 376.0 C580.6 375.1 580.9 373.8 581.4 373.0Z" fill="#fff" stroke="#1d1d1f" stroke-width="0.85" stroke-linejoin="round" stroke-linecap="round"/><path d="M580.8 360.6 L601.8 368.2 L600.4 372.2 L578.2 369.2Z" fill="#fff" stroke="#1d1d1f" stroke-width="0.9" stroke-linejoin="round"/><path d="M586.4 362.7 L592.6 365 L591.8 371.1 L585 370.2Z" fill="#4a4a4a" stroke="#1d1d1f" stroke-width="0.6" stroke-linejoin="round"/><ellipse cx="579.6" cy="364.9" rx="1.6" ry="4.3" fill="#fff" stroke="#1d1d1f" stroke-width="0.9" transform="rotate(16 579.6 364.9)"/><path d="M573.3 355.3 L575.8 359.1 M569.5 362.3 L573.3 362.3" stroke="#1d1d1f" stroke-width="0.9" fill="none" stroke-linecap="round"/></svg>
<div class="b" style="left:701.00px;top:0.00px;width:29.00px;height:470.00px;background:#fff;"></div>
</body></html>
